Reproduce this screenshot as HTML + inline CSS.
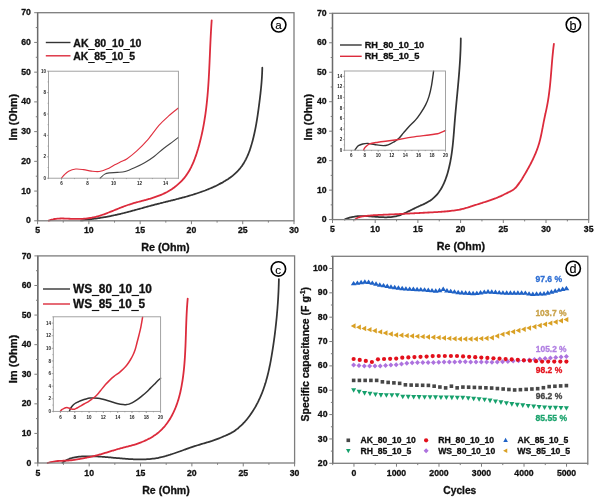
<!DOCTYPE html><html><head><meta charset="utf-8"><style>html,body{margin:0;padding:0;background:#fff;}svg{display:block;}</style></head><body>
<svg width="600" height="503" viewBox="0 0 600 503" font-family='"Liberation Sans", Arial, sans-serif'>
<rect width="600" height="503" fill="#fff"/>
<path d="M81.01 220.49 C81.26 220.45 81.99 220.36 82.48 220.3 C82.97 220.24 83.46 220.17 83.96 220.11 C84.45 220.05 84.94 219.98 85.43 219.92 C85.92 219.86 86.41 219.79 86.9 219.73 C87.39 219.66 87.88 219.6 88.37 219.53 C88.86 219.47 89.36 219.4 89.85 219.33 C90.34 219.27 90.83 219.2 91.32 219.13 C91.81 219.07 92.31 219 92.8 218.93 C93.29 218.86 93.78 218.79 94.27 218.72 C94.76 218.65 95.26 218.58 95.75 218.51 C96.24 218.43 96.73 218.36 97.23 218.29 C97.72 218.21 98.21 218.14 98.7 218.06 C99.2 217.99 99.69 217.91 100.18 217.83 C100.67 217.75 101.17 217.68 101.66 217.6 C102.15 217.52 102.64 217.43 103.14 217.35 C103.63 217.27 104.12 217.19 104.62 217.1 C105.11 217.02 105.6 216.93 106.09 216.84 C106.59 216.76 107.08 216.67 107.57 216.58 C108.07 216.49 108.56 216.39 109.05 216.3 C109.55 216.21 110.04 216.11 110.53 216.02 C111.02 215.92 111.52 215.82 112.01 215.72 C112.5 215.62 113 215.52 113.49 215.42 C113.98 215.32 114.48 215.21 114.97 215.11 C115.46 215 115.96 214.89 116.45 214.78 C116.94 214.67 117.43 214.56 117.93 214.45 C118.42 214.33 118.91 214.22 119.41 214.1 C119.9 213.99 120.39 213.87 120.89 213.75 C121.38 213.63 121.87 213.51 122.37 213.39 C122.86 213.27 123.35 213.15 123.84 213.02 C124.34 212.9 124.83 212.77 125.32 212.65 C125.81 212.52 126.31 212.39 126.8 212.27 C127.29 212.14 127.79 212.01 128.28 211.88 C128.77 211.75 129.26 211.62 129.76 211.49 C130.25 211.36 130.74 211.22 131.23 211.09 C131.72 210.96 132.22 210.82 132.71 210.69 C133.2 210.56 133.69 210.42 134.18 210.29 C134.68 210.15 135.17 210.02 135.66 209.88 C136.15 209.75 136.64 209.61 137.13 209.47 C137.63 209.34 138.12 209.2 138.61 209.07 C139.1 208.93 139.59 208.79 140.08 208.66 C140.57 208.52 141.06 208.38 141.56 208.25 C142.05 208.11 142.54 207.97 143.03 207.84 C143.52 207.7 144.01 207.57 144.5 207.43 C144.99 207.29 145.48 207.16 145.97 207.02 C146.46 206.89 146.95 206.75 147.44 206.62 C147.93 206.49 148.42 206.35 148.91 206.22 C149.4 206.09 149.89 205.95 150.38 205.82 C150.87 205.69 151.36 205.56 151.84 205.43 C152.33 205.3 152.82 205.17 153.31 205.04 C153.8 204.91 154.29 204.79 154.78 204.66 C155.26 204.53 155.75 204.41 156.24 204.28 C156.73 204.16 157.21 204.03 157.7 203.91 C158.19 203.78 158.68 203.66 159.16 203.54 C159.65 203.41 160.14 203.29 160.62 203.17 C161.11 203.05 161.6 202.93 162.08 202.81 C162.57 202.68 163.06 202.56 163.54 202.44 C164.03 202.32 164.51 202.2 165 202.08 C165.48 201.96 165.97 201.84 166.45 201.72 C166.94 201.6 167.42 201.48 167.91 201.36 C168.39 201.24 168.88 201.12 169.36 201 C169.84 200.88 170.33 200.76 170.81 200.64 C171.29 200.52 171.78 200.4 172.26 200.28 C172.74 200.16 173.23 200.04 173.71 199.92 C174.19 199.8 174.67 199.68 175.16 199.55 C175.64 199.43 176.12 199.31 176.6 199.19 C177.08 199.06 177.56 198.94 178.04 198.81 C178.52 198.69 179 198.56 179.48 198.44 C179.97 198.31 180.44 198.19 180.92 198.06 C181.4 197.93 181.88 197.81 182.36 197.68 C182.84 197.55 183.32 197.42 183.8 197.29 C184.28 197.16 184.76 197.03 185.23 196.89 C185.71 196.76 186.19 196.63 186.67 196.49 C187.14 196.36 187.62 196.22 188.1 196.08 C188.57 195.95 189.05 195.81 189.52 195.67 C190 195.53 190.48 195.39 190.95 195.25 C191.43 195.1 191.9 194.96 192.38 194.81 C192.85 194.67 193.32 194.52 193.8 194.37 C194.27 194.22 194.75 194.07 195.22 193.92 C195.69 193.77 196.16 193.62 196.64 193.46 C197.11 193.31 197.58 193.15 198.05 192.99 C198.52 192.83 199 192.67 199.47 192.51 C199.94 192.35 200.41 192.18 200.88 192.02 C201.35 191.85 201.82 191.68 202.29 191.51 C202.76 191.34 203.23 191.17 203.69 191 C204.16 190.82 204.63 190.64 205.1 190.47 C205.57 190.29 206.03 190.1 206.5 189.92 C206.97 189.74 207.43 189.55 207.9 189.36 C208.37 189.17 208.83 188.98 209.3 188.79 C209.76 188.6 210.23 188.4 210.69 188.2 C211.16 188 211.62 187.8 212.08 187.6 C212.55 187.39 213.01 187.19 213.47 186.98 C213.94 186.77 214.4 186.56 214.86 186.34 C215.32 186.13 215.78 185.91 216.24 185.69 C216.7 185.47 217.16 185.24 217.62 185.01 C218.08 184.79 218.53 184.56 218.99 184.32 C219.44 184.09 219.9 183.85 220.35 183.61 C220.8 183.37 221.25 183.13 221.7 182.88 C222.15 182.64 222.59 182.39 223.03 182.13 C223.48 181.88 223.92 181.62 224.36 181.36 C224.79 181.1 225.23 180.84 225.66 180.57 C226.09 180.3 226.52 180.03 226.95 179.75 C227.38 179.48 227.8 179.2 228.22 178.92 C228.64 178.63 229.05 178.34 229.46 178.05 C229.88 177.76 230.28 177.47 230.69 177.17 C231.09 176.87 231.49 176.56 231.89 176.26 C232.28 175.95 232.67 175.64 233.06 175.32 C233.44 175 233.82 174.68 234.2 174.36 C234.58 174.03 234.95 173.7 235.31 173.37 C235.68 173.03 236.04 172.69 236.39 172.35 C236.75 172.01 237.1 171.66 237.44 171.31 C237.78 170.95 238.12 170.6 238.45 170.23 C238.78 169.87 239.11 169.5 239.42 169.13 C239.74 168.76 240.05 168.38 240.36 168 C240.66 167.62 240.96 167.23 241.26 166.84 C241.55 166.45 241.83 166.05 242.11 165.65 C242.39 165.25 242.67 164.84 242.94 164.43 C243.2 164.02 243.47 163.61 243.72 163.19 C243.98 162.77 244.23 162.35 244.48 161.92 C244.72 161.5 244.96 161.07 245.2 160.64 C245.43 160.2 245.66 159.77 245.89 159.33 C246.11 158.89 246.33 158.44 246.55 158 C246.76 157.55 246.97 157.1 247.18 156.65 C247.38 156.19 247.58 155.74 247.78 155.28 C247.98 154.82 248.17 154.36 248.36 153.9 C248.54 153.43 248.73 152.97 248.91 152.5 C249.09 152.03 249.26 151.56 249.44 151.09 C249.61 150.62 249.78 150.14 249.94 149.66 C250.11 149.19 250.27 148.71 250.43 148.23 C250.58 147.75 250.74 147.27 250.89 146.78 C251.04 146.3 251.19 145.82 251.33 145.33 C251.48 144.84 251.62 144.36 251.76 143.87 C251.9 143.38 252.04 142.89 252.17 142.4 C252.31 141.91 252.44 141.42 252.57 140.93 C252.7 140.44 252.83 139.95 252.95 139.46 C253.08 138.96 253.2 138.47 253.32 137.98 C253.44 137.49 253.56 136.99 253.68 136.5 C253.8 136 253.91 135.51 254.02 135.01 C254.14 134.52 254.25 134.02 254.36 133.53 C254.47 133.03 254.57 132.54 254.68 132.04 C254.78 131.54 254.89 131.05 254.99 130.55 C255.09 130.05 255.19 129.56 255.29 129.06 C255.39 128.56 255.48 128.06 255.58 127.57 C255.67 127.07 255.77 126.57 255.86 126.07 C255.95 125.57 256.04 125.07 256.13 124.57 C256.22 124.08 256.31 123.58 256.39 123.08 C256.48 122.58 256.57 122.08 256.65 121.58 C256.73 121.08 256.82 120.58 256.9 120.08 C256.98 119.58 257.06 119.08 257.14 118.58 C257.22 118.08 257.29 117.58 257.37 117.08 C257.45 116.58 257.52 116.08 257.6 115.59 C257.67 115.09 257.75 114.59 257.82 114.09 C257.89 113.59 257.96 113.09 258.03 112.59 C258.11 112.09 258.18 111.59 258.25 111.09 C258.32 110.59 258.38 110.09 258.45 109.6 C258.52 109.1 258.59 108.6 258.66 108.1 C258.72 107.6 258.79 107.1 258.86 106.61 C258.92 106.11 258.99 105.61 259.05 105.11 C259.12 104.62 259.18 104.12 259.24 103.62 C259.31 103.13 259.37 102.63 259.44 102.13 C259.5 101.64 259.56 101.14 259.62 100.64 C259.69 100.15 259.75 99.65 259.81 99.16 C259.87 98.66 259.93 98.17 259.99 97.67 C260.05 97.18 260.11 96.68 260.17 96.18 C260.22 95.69 260.28 95.19 260.34 94.7 C260.39 94.2 260.45 93.71 260.51 93.21 C260.56 92.72 260.61 92.22 260.67 91.73 C260.72 91.23 260.77 90.74 260.82 90.24 C260.88 89.75 260.93 89.25 260.98 88.75 C261.03 88.26 261.07 87.76 261.12 87.27 C261.17 86.77 261.22 86.27 261.26 85.78 C261.31 85.28 261.35 84.78 261.39 84.28 C261.43 83.79 261.48 83.29 261.52 82.79 C261.56 82.29 261.6 81.79 261.63 81.3 C261.67 80.8 261.71 80.3 261.74 79.8 C261.78 79.3 261.81 78.8 261.85 78.3 C261.88 77.8 261.91 77.3 261.94 76.8 C261.97 76.29 262 75.79 262.02 75.29 C262.05 74.79 262.08 74.28 262.1 73.78 C262.12 73.28 262.14 72.77 262.16 72.27 C262.18 71.76 262.2 71.26 262.22 70.75 C262.24 70.24 262.25 69.74 262.27 69.23 C262.28 68.72 262.3 67.96 262.3 67.7" stroke="#343434" stroke-width="1.75" fill="none" stroke-linejoin="round" stroke-linecap="round"/>
<path d="M48.69 220.58 C48.93 220.5 49.65 220.22 50.14 220.06 C50.62 219.9 51.11 219.75 51.59 219.62 C52.08 219.49 52.57 219.37 53.06 219.27 C53.54 219.16 54.03 219.07 54.52 218.99 C55.01 218.91 55.5 218.84 56 218.78 C56.49 218.72 56.98 218.67 57.47 218.63 C57.96 218.59 58.46 218.56 58.95 218.54 C59.45 218.51 59.94 218.5 60.44 218.49 C60.93 218.48 61.43 218.47 61.92 218.47 C62.42 218.47 62.92 218.48 63.41 218.49 C63.91 218.5 64.41 218.52 64.91 218.54 C65.41 218.55 65.9 218.57 66.4 218.6 C66.9 218.62 67.4 218.64 67.9 218.66 C68.4 218.69 68.9 218.71 69.39 218.73 C69.89 218.76 70.39 218.78 70.89 218.8 C71.39 218.82 71.89 218.83 72.39 218.85 C72.89 218.87 73.39 218.88 73.89 218.89 C74.38 218.9 74.88 218.91 75.38 218.92 C75.88 218.93 76.38 218.93 76.88 218.93 C77.37 218.93 77.87 218.93 78.37 218.93 C78.86 218.92 79.36 218.91 79.86 218.9 C80.35 218.89 80.85 218.87 81.35 218.85 C81.84 218.83 82.34 218.81 82.83 218.78 C83.32 218.76 83.82 218.72 84.31 218.69 C84.8 218.65 85.29 218.61 85.79 218.56 C86.28 218.52 86.77 218.47 87.26 218.41 C87.75 218.36 88.24 218.3 88.72 218.23 C89.21 218.16 89.7 218.09 90.18 218.01 C90.67 217.94 91.16 217.85 91.64 217.76 C92.12 217.67 92.61 217.58 93.09 217.48 C93.57 217.37 94.05 217.27 94.53 217.15 C95.01 217.04 95.49 216.92 95.97 216.8 C96.45 216.67 96.92 216.55 97.4 216.41 C97.88 216.28 98.35 216.14 98.83 216 C99.3 215.86 99.78 215.71 100.25 215.56 C100.72 215.41 101.2 215.25 101.67 215.09 C102.14 214.94 102.61 214.77 103.08 214.61 C103.56 214.44 104.03 214.28 104.5 214.1 C104.97 213.93 105.44 213.76 105.91 213.58 C106.38 213.41 106.85 213.23 107.32 213.05 C107.79 212.86 108.26 212.68 108.73 212.5 C109.2 212.31 109.67 212.12 110.13 211.94 C110.6 211.75 111.07 211.56 111.54 211.37 C112.01 211.18 112.48 210.99 112.95 210.8 C113.42 210.6 113.89 210.41 114.36 210.22 C114.83 210.03 115.3 209.83 115.77 209.64 C116.24 209.45 116.71 209.26 117.18 209.06 C117.65 208.87 118.12 208.68 118.6 208.49 C119.07 208.3 119.54 208.11 120.01 207.92 C120.49 207.73 120.96 207.55 121.43 207.36 C121.91 207.18 122.38 206.99 122.86 206.81 C123.33 206.63 123.81 206.45 124.29 206.27 C124.76 206.1 125.24 205.92 125.72 205.75 C126.2 205.58 126.68 205.41 127.16 205.25 C127.64 205.08 128.12 204.92 128.6 204.76 C129.08 204.6 129.57 204.44 130.05 204.29 C130.54 204.14 131.02 203.98 131.51 203.84 C131.99 203.69 132.48 203.54 132.96 203.4 C133.45 203.25 133.94 203.11 134.43 202.97 C134.91 202.83 135.4 202.69 135.89 202.55 C136.38 202.42 136.87 202.28 137.35 202.15 C137.84 202.01 138.33 201.88 138.82 201.75 C139.31 201.61 139.8 201.48 140.29 201.35 C140.77 201.22 141.26 201.09 141.75 200.95 C142.24 200.82 142.73 200.69 143.21 200.56 C143.7 200.43 144.19 200.3 144.67 200.16 C145.16 200.03 145.64 199.9 146.13 199.76 C146.61 199.63 147.1 199.5 147.58 199.36 C148.06 199.22 148.55 199.09 149.03 198.95 C149.51 198.81 149.99 198.67 150.47 198.52 C150.95 198.38 151.43 198.24 151.91 198.09 C152.38 197.94 152.86 197.79 153.33 197.64 C153.81 197.49 154.28 197.34 154.75 197.18 C155.23 197.02 155.7 196.86 156.17 196.7 C156.63 196.54 157.1 196.37 157.57 196.2 C158.03 196.03 158.5 195.85 158.96 195.68 C159.42 195.5 159.88 195.32 160.34 195.13 C160.8 194.95 161.25 194.76 161.71 194.56 C162.16 194.37 162.61 194.17 163.06 193.96 C163.51 193.76 163.96 193.55 164.4 193.34 C164.85 193.12 165.29 192.9 165.73 192.68 C166.17 192.45 166.61 192.22 167.04 191.99 C167.47 191.75 167.91 191.51 168.33 191.27 C168.76 191.02 169.19 190.77 169.61 190.52 C170.03 190.26 170.45 190 170.87 189.73 C171.29 189.47 171.7 189.2 172.11 188.92 C172.52 188.65 172.93 188.37 173.33 188.08 C173.73 187.8 174.13 187.51 174.52 187.21 C174.92 186.92 175.31 186.62 175.7 186.31 C176.09 186.01 176.47 185.7 176.85 185.38 C177.23 185.07 177.6 184.75 177.97 184.43 C178.35 184.1 178.71 183.77 179.07 183.44 C179.44 183.11 179.79 182.77 180.15 182.42 C180.5 182.08 180.85 181.73 181.19 181.38 C181.54 181.03 181.88 180.67 182.21 180.31 C182.54 179.95 182.87 179.58 183.2 179.21 C183.52 178.84 183.84 178.47 184.15 178.09 C184.47 177.71 184.77 177.32 185.08 176.94 C185.38 176.55 185.68 176.15 185.97 175.76 C186.26 175.36 186.54 174.96 186.82 174.55 C187.1 174.14 187.38 173.73 187.65 173.32 C187.92 172.91 188.18 172.49 188.44 172.06 C188.7 171.64 188.95 171.22 189.2 170.79 C189.45 170.36 189.7 169.92 189.94 169.49 C190.18 169.05 190.41 168.61 190.64 168.17 C190.87 167.73 191.1 167.28 191.32 166.83 C191.54 166.38 191.76 165.93 191.97 165.47 C192.18 165.02 192.39 164.56 192.6 164.1 C192.8 163.64 193 163.18 193.2 162.72 C193.4 162.25 193.59 161.79 193.78 161.32 C193.97 160.85 194.16 160.38 194.34 159.91 C194.52 159.44 194.7 158.96 194.88 158.49 C195.06 158.01 195.23 157.53 195.4 157.05 C195.57 156.58 195.74 156.1 195.9 155.62 C196.07 155.13 196.23 154.65 196.39 154.17 C196.55 153.69 196.71 153.2 196.86 152.72 C197.02 152.23 197.17 151.75 197.32 151.26 C197.47 150.78 197.62 150.29 197.76 149.81 C197.91 149.32 198.05 148.83 198.2 148.35 C198.34 147.86 198.48 147.38 198.62 146.89 C198.76 146.4 198.89 145.91 199.03 145.43 C199.16 144.94 199.3 144.45 199.43 143.97 C199.56 143.48 199.69 142.99 199.81 142.5 C199.94 142.01 200.07 141.53 200.19 141.04 C200.32 140.55 200.44 140.06 200.56 139.57 C200.68 139.08 200.8 138.6 200.91 138.11 C201.03 137.62 201.15 137.13 201.26 136.64 C201.37 136.15 201.49 135.66 201.6 135.17 C201.71 134.68 201.82 134.19 201.92 133.7 C202.03 133.21 202.14 132.72 202.24 132.23 C202.34 131.74 202.45 131.25 202.55 130.76 C202.65 130.27 202.75 129.78 202.84 129.29 C202.94 128.8 203.04 128.31 203.13 127.82 C203.23 127.33 203.32 126.84 203.41 126.34 C203.5 125.85 203.59 125.36 203.68 124.87 C203.77 124.38 203.86 123.89 203.95 123.39 C204.03 122.9 204.12 122.41 204.2 121.92 C204.28 121.43 204.36 120.93 204.45 120.44 C204.53 119.95 204.61 119.46 204.68 118.96 C204.76 118.47 204.84 117.98 204.91 117.48 C204.99 116.99 205.06 116.5 205.14 116 C205.21 115.51 205.28 115.02 205.35 114.52 C205.42 114.03 205.49 113.54 205.56 113.04 C205.63 112.55 205.69 112.06 205.76 111.56 C205.82 111.07 205.89 110.57 205.95 110.08 C206.01 109.58 206.08 109.09 206.14 108.6 C206.2 108.1 206.26 107.61 206.32 107.11 C206.38 106.62 206.43 106.12 206.49 105.63 C206.55 105.13 206.6 104.64 206.66 104.14 C206.71 103.65 206.77 103.15 206.82 102.66 C206.87 102.16 206.93 101.66 206.98 101.17 C207.03 100.67 207.08 100.18 207.13 99.68 C207.17 99.19 207.22 98.69 207.27 98.19 C207.32 97.7 207.36 97.2 207.41 96.71 C207.45 96.21 207.5 95.71 207.54 95.22 C207.59 94.72 207.63 94.22 207.67 93.73 C207.71 93.23 207.76 92.73 207.8 92.24 C207.84 91.74 207.88 91.24 207.92 90.75 C207.96 90.25 207.99 89.75 208.03 89.25 C208.07 88.76 208.11 88.26 208.14 87.76 C208.18 87.26 208.21 86.77 208.25 86.27 C208.28 85.77 208.32 85.27 208.35 84.78 C208.39 84.28 208.42 83.78 208.45 83.28 C208.48 82.78 208.52 82.29 208.55 81.79 C208.58 81.29 208.61 80.79 208.64 80.29 C208.67 79.8 208.7 79.3 208.73 78.8 C208.76 78.3 208.79 77.8 208.82 77.3 C208.84 76.81 208.87 76.31 208.9 75.81 C208.93 75.31 208.95 74.81 208.98 74.31 C209.01 73.81 209.03 73.31 209.06 72.82 C209.09 72.32 209.11 71.82 209.14 71.32 C209.16 70.82 209.19 70.32 209.21 69.82 C209.24 69.32 209.26 68.82 209.28 68.32 C209.31 67.82 209.33 67.33 209.35 66.83 C209.38 66.33 209.4 65.83 209.42 65.33 C209.45 64.83 209.47 64.33 209.49 63.83 C209.51 63.33 209.54 62.83 209.56 62.33 C209.58 61.83 209.6 61.33 209.62 60.83 C209.65 60.33 209.67 59.83 209.69 59.33 C209.71 58.83 209.73 58.33 209.75 57.83 C209.78 57.33 209.8 56.83 209.82 56.33 C209.84 55.83 209.86 55.33 209.88 54.83 C209.9 54.33 209.93 53.83 209.95 53.33 C209.97 52.83 209.99 52.33 210.01 51.83 C210.03 51.33 210.05 50.83 210.07 50.33 C210.1 49.83 210.12 49.33 210.14 48.83 C210.16 48.33 210.18 47.83 210.2 47.33 C210.23 46.83 210.25 46.33 210.27 45.83 C210.29 45.33 210.32 44.83 210.34 44.33 C210.36 43.83 210.38 43.33 210.41 42.82 C210.43 42.32 210.45 41.82 210.48 41.32 C210.5 40.82 210.52 40.32 210.55 39.82 C210.57 39.32 210.6 38.82 210.62 38.32 C210.65 37.82 210.67 37.32 210.7 36.82 C210.72 36.32 210.75 35.82 210.77 35.32 C210.8 34.82 210.83 34.32 210.85 33.81 C210.88 33.31 210.91 32.81 210.94 32.31 C210.96 31.81 210.99 31.31 211.02 30.81 C211.05 30.31 211.08 29.81 211.11 29.31 C211.14 28.81 211.17 28.31 211.2 27.81 C211.23 27.31 211.26 26.81 211.29 26.31 C211.32 25.81 211.36 25.3 211.39 24.8 C211.42 24.3 211.46 23.8 211.49 23.3 C211.52 22.8 211.56 22.3 211.59 21.8 C211.63 21.3 211.68 20.55 211.7 20.3" stroke="#dc2b3c" stroke-width="1.8" fill="none" stroke-linejoin="round" stroke-linecap="round"/>
<rect x="37.6" y="12.7" width="256.4" height="208.1" fill="none" stroke="#7d7d7d" stroke-width="1.3"/>
<path d="M37.6 12.7V220.8" stroke="#6a6a6a" stroke-width="1.3"/>
<path d="M37.6 220.8V224.2M88.88 220.8V224.2M140.16 220.8V224.2M191.44 220.8V224.2M242.72 220.8V224.2M294 220.8V224.2M63.24 220.8V222.6M114.52 220.8V222.6M165.8 220.8V222.6M217.08 220.8V222.6M268.36 220.8V222.6M37.6 220.8H34.2M37.6 191.07H34.2M37.6 161.34H34.2M37.6 131.61H34.2M37.6 101.89H34.2M37.6 72.16H34.2M37.6 42.43H34.2M37.6 12.7H34.2M37.6 205.94H35.8M37.6 176.21H35.8M37.6 146.48H35.8M37.6 116.75H35.8M37.6 87.02H35.8M37.6 57.29H35.8M37.6 27.56H35.8" stroke="#7d7d7d" stroke-width="1.0" fill="none"/>
<text x="30.9" y="223.4" font-size="8.7" text-anchor="end" font-weight="bold" fill="#111" stroke="#111" stroke-width="0.3">0</text>
<text x="30.9" y="193.67" font-size="8.7" text-anchor="end" font-weight="bold" fill="#111" stroke="#111" stroke-width="0.3">10</text>
<text x="30.9" y="163.94" font-size="8.7" text-anchor="end" font-weight="bold" fill="#111" stroke="#111" stroke-width="0.3">20</text>
<text x="30.9" y="134.21" font-size="8.7" text-anchor="end" font-weight="bold" fill="#111" stroke="#111" stroke-width="0.3">30</text>
<text x="30.9" y="104.49" font-size="8.7" text-anchor="end" font-weight="bold" fill="#111" stroke="#111" stroke-width="0.3">40</text>
<text x="30.9" y="74.76" font-size="8.7" text-anchor="end" font-weight="bold" fill="#111" stroke="#111" stroke-width="0.3">50</text>
<text x="30.9" y="45.03" font-size="8.7" text-anchor="end" font-weight="bold" fill="#111" stroke="#111" stroke-width="0.3">60</text>
<text x="30.9" y="15.3" font-size="8.7" text-anchor="end" font-weight="bold" fill="#111" stroke="#111" stroke-width="0.3">70</text>
<text x="37.6" y="233" font-size="8.7" text-anchor="middle" font-weight="bold" fill="#111" stroke="#111" stroke-width="0.3">5</text>
<text x="88.88" y="233" font-size="8.7" text-anchor="middle" font-weight="bold" fill="#111" stroke="#111" stroke-width="0.3">10</text>
<text x="140.16" y="233" font-size="8.7" text-anchor="middle" font-weight="bold" fill="#111" stroke="#111" stroke-width="0.3">15</text>
<text x="191.44" y="233" font-size="8.7" text-anchor="middle" font-weight="bold" fill="#111" stroke="#111" stroke-width="0.3">20</text>
<text x="242.72" y="233" font-size="8.7" text-anchor="middle" font-weight="bold" fill="#111" stroke="#111" stroke-width="0.3">25</text>
<text x="294" y="233" font-size="8.7" text-anchor="middle" font-weight="bold" fill="#111" stroke="#111" stroke-width="0.3">30</text>
<text x="165.5" y="250.6" font-size="10.6" text-anchor="middle" font-weight="bold" fill="#111" stroke="#111" stroke-width="0.3" textLength="48.4" lengthAdjust="spacingAndGlyphs">Re (Ohm)</text>
<text x="0" y="0" font-size="10.8" font-weight="bold" fill="#111" stroke="#111" stroke-width="0.3" text-anchor="middle" textLength="46.6" lengthAdjust="spacingAndGlyphs" transform="translate(16.9 117.2) rotate(-90)">Im (Ohm)</text>
<path d="M45.8 42.5H70.5" stroke="#343434" stroke-width="1.4"/>
<path d="M45.8 55.8H70.5" stroke="#dc2b3c" stroke-width="1.4"/>
<text x="73.3" y="46.6" font-size="10.5" text-anchor="start" font-weight="bold" fill="#111" stroke="#111" stroke-width="0.3" textLength="68.2" lengthAdjust="spacingAndGlyphs">AK<tspan dy="1.05" stroke="#111" stroke-width="0.58">_</tspan><tspan dy="-1.05">80</tspan><tspan dy="1.05" stroke="#111" stroke-width="0.58">_</tspan><tspan dy="-1.05">10</tspan><tspan dy="1.05" stroke="#111" stroke-width="0.58">_</tspan><tspan dy="-1.05">10</tspan></text>
<text x="73.3" y="59.9" font-size="10.5" text-anchor="start" font-weight="bold" fill="#111" stroke="#111" stroke-width="0.3" textLength="61.7" lengthAdjust="spacingAndGlyphs">AK<tspan dy="1.05" stroke="#111" stroke-width="0.58">_</tspan><tspan dy="-1.05">85</tspan><tspan dy="1.05" stroke="#111" stroke-width="0.58">_</tspan><tspan dy="-1.05">10</tspan><tspan dy="1.05" stroke="#111" stroke-width="0.58">_</tspan><tspan dy="-1.05">5</tspan></text>
<circle cx="278.7" cy="24.8" r="7.2" fill="#fff" stroke="#000" stroke-width="1.6"/>
<text x="278.4" y="29.3" font-size="11.6" text-anchor="middle" fill="#000" stroke="#000" stroke-width="0.15">a</text>
<rect x="48.5" y="71.2" width="129.9" height="107" fill="#fff"/>
<path d="M100.07 178.2 C100.85 177.52 103.17 175.03 104.75 174.13 C106.33 173.24 107.45 173.14 109.55 172.85 C111.65 172.56 114.75 172.64 117.35 172.42 C119.95 172.21 122.2 172.37 125.14 171.57 C128.09 170.76 131.77 169.07 135.01 167.61 C138.26 166.14 141.44 164.65 144.63 162.79 C147.81 160.94 150.95 158.87 154.11 156.48 C157.27 154.09 160.41 150.97 163.59 148.45 C166.77 145.94 170.74 143.23 173.2 141.39 C175.67 139.56 177.53 138.09 178.4 137.43" stroke="#444" stroke-width="1.1" fill="none" stroke-linejoin="round" stroke-linecap="round"/>
<path d="M61.49 178.2 C61.92 177.66 62.9 176.17 64.09 174.99 C65.28 173.81 66.69 172.14 68.63 171.14 C70.58 170.14 73.29 169.25 75.78 169 C78.27 168.75 80.98 169.28 83.57 169.64 C86.17 170 88.77 170.82 91.37 171.14 C93.97 171.46 96.56 171.9 99.16 171.57 C101.76 171.23 104.36 170.23 106.96 169.1 C109.55 167.98 112.37 166.07 114.75 164.82 C117.13 163.58 119.19 162.63 121.24 161.61 C123.3 160.6 124.49 160.51 127.09 158.73 C129.69 156.94 133.37 154.09 136.83 150.91 C140.3 147.74 144.19 143.92 147.87 139.68 C151.55 135.44 155.45 129.41 158.92 125.45 C162.38 121.49 165.41 118.83 168.66 115.93 C171.91 113.02 176.78 109.33 178.4 108.01" stroke="#e0303f" stroke-width="1.1" fill="none" stroke-linejoin="round" stroke-linecap="round"/>
<rect x="48.5" y="71.2" width="129.9" height="107" fill="none" stroke="#999" stroke-width="0.9"/>
<path d="M61.49 178.2V179.8M87.47 178.2V179.8M113.45 178.2V179.8M139.43 178.2V179.8M165.41 178.2V179.8M48.5 178.2V179.1M61.49 178.2V179.1M74.48 178.2V179.1M87.47 178.2V179.1M100.46 178.2V179.1M113.45 178.2V179.1M126.44 178.2V179.1M139.43 178.2V179.1M152.42 178.2V179.1M165.41 178.2V179.1M178.4 178.2V179.1M48.5 178.2H46.9M48.5 156.8H46.9M48.5 135.4H46.9M48.5 114H46.9M48.5 92.6H46.9M48.5 71.2H46.9M48.5 167.5H47.6M48.5 146.1H47.6M48.5 124.7H47.6M48.5 103.3H47.6M48.5 81.9H47.6" stroke="#8a8a8a" stroke-width="0.7" fill="none"/>
<text x="45.9" y="179.8" font-size="4.5" text-anchor="end" font-weight="bold" fill="#222">0</text>
<text x="45.9" y="158.4" font-size="4.5" text-anchor="end" font-weight="bold" fill="#222">2</text>
<text x="45.9" y="137" font-size="4.5" text-anchor="end" font-weight="bold" fill="#222">4</text>
<text x="45.9" y="115.6" font-size="4.5" text-anchor="end" font-weight="bold" fill="#222">6</text>
<text x="45.9" y="94.2" font-size="4.5" text-anchor="end" font-weight="bold" fill="#222">8</text>
<text x="45.9" y="72.8" font-size="4.5" text-anchor="end" font-weight="bold" fill="#222">10</text>
<text x="61.49" y="185.2" font-size="4.5" text-anchor="middle" font-weight="bold" fill="#222">6</text>
<text x="87.47" y="185.2" font-size="4.5" text-anchor="middle" font-weight="bold" fill="#222">8</text>
<text x="113.45" y="185.2" font-size="4.5" text-anchor="middle" font-weight="bold" fill="#222">10</text>
<text x="139.43" y="185.2" font-size="4.5" text-anchor="middle" font-weight="bold" fill="#222">12</text>
<text x="165.41" y="185.2" font-size="4.5" text-anchor="middle" font-weight="bold" fill="#222">14</text>
<path d="M344.7 219.49 C344.93 219.38 345.61 219.06 346.07 218.86 C346.53 218.66 347 218.48 347.46 218.31 C347.93 218.14 348.4 217.98 348.87 217.83 C349.34 217.68 349.81 217.54 350.29 217.41 C350.76 217.29 351.24 217.17 351.72 217.06 C352.2 216.96 352.68 216.86 353.17 216.77 C353.65 216.68 354.14 216.61 354.63 216.54 C355.11 216.47 355.6 216.41 356.09 216.35 C356.59 216.3 357.08 216.25 357.57 216.22 C358.07 216.18 358.56 216.15 359.06 216.12 C359.56 216.1 360.06 216.08 360.56 216.07 C361.06 216.05 361.56 216.05 362.06 216.05 C362.56 216.05 363.07 216.05 363.57 216.06 C364.08 216.07 364.58 216.08 365.09 216.1 C365.59 216.12 366.1 216.14 366.61 216.16 C367.11 216.19 367.62 216.21 368.13 216.24 C368.64 216.27 369.15 216.31 369.66 216.34 C370.17 216.38 370.68 216.41 371.19 216.45 C371.7 216.49 372.21 216.53 372.72 216.57 C373.23 216.6 373.74 216.64 374.25 216.68 C374.76 216.72 375.27 216.76 375.77 216.8 C376.28 216.84 376.79 216.88 377.3 216.92 C377.81 216.95 378.32 216.99 378.83 217.02 C379.34 217.05 379.84 217.09 380.35 217.11 C380.86 217.14 381.36 217.17 381.87 217.19 C382.37 217.21 382.88 217.23 383.38 217.24 C383.88 217.26 384.39 217.27 384.89 217.27 C385.39 217.28 385.89 217.28 386.39 217.27 C386.88 217.27 387.38 217.26 387.88 217.24 C388.37 217.23 388.87 217.2 389.36 217.17 C389.85 217.15 390.34 217.11 390.83 217.07 C391.32 217.02 391.81 216.97 392.3 216.91 C392.78 216.85 393.27 216.79 393.75 216.71 C394.23 216.63 394.71 216.55 395.19 216.45 C395.67 216.36 396.14 216.26 396.61 216.14 C397.09 216.03 397.56 215.9 398.03 215.77 C398.5 215.64 398.96 215.49 399.43 215.34 C399.89 215.18 400.35 215.02 400.81 214.85 C401.27 214.68 401.73 214.5 402.19 214.31 C402.65 214.12 403.1 213.93 403.56 213.73 C404.01 213.53 404.47 213.32 404.92 213.11 C405.38 212.9 405.83 212.69 406.28 212.47 C406.74 212.25 407.19 212.03 407.64 211.8 C408.09 211.58 408.55 211.35 409 211.12 C409.45 210.89 409.91 210.66 410.36 210.43 C410.82 210.2 411.27 209.96 411.73 209.73 C412.19 209.5 412.65 209.27 413.11 209.04 C413.57 208.82 414.03 208.59 414.49 208.36 C414.96 208.14 415.42 207.92 415.89 207.7 C416.35 207.48 416.82 207.27 417.29 207.05 C417.76 206.84 418.23 206.63 418.7 206.42 C419.17 206.21 419.64 206 420.11 205.79 C420.58 205.57 421.05 205.36 421.52 205.15 C421.98 204.94 422.45 204.73 422.91 204.51 C423.37 204.3 423.83 204.08 424.29 203.86 C424.74 203.64 425.2 203.41 425.64 203.18 C426.09 202.96 426.54 202.72 426.98 202.49 C427.42 202.25 427.85 202.01 428.28 201.76 C428.71 201.51 429.13 201.26 429.55 200.99 C429.96 200.73 430.37 200.46 430.77 200.19 C431.17 199.91 431.57 199.63 431.95 199.33 C432.34 199.04 432.72 198.74 433.09 198.43 C433.46 198.12 433.82 197.8 434.18 197.47 C434.53 197.15 434.88 196.81 435.22 196.47 C435.56 196.13 435.89 195.78 436.22 195.42 C436.54 195.07 436.86 194.7 437.17 194.33 C437.48 193.96 437.79 193.59 438.08 193.21 C438.38 192.82 438.67 192.43 438.96 192.04 C439.24 191.64 439.52 191.24 439.79 190.83 C440.06 190.43 440.33 190.02 440.59 189.6 C440.84 189.18 441.1 188.76 441.34 188.33 C441.59 187.9 441.83 187.47 442.07 187.03 C442.3 186.59 442.53 186.15 442.76 185.71 C442.98 185.26 443.2 184.81 443.41 184.36 C443.63 183.9 443.83 183.45 444.04 182.98 C444.24 182.52 444.44 182.06 444.63 181.59 C444.82 181.12 445.01 180.65 445.2 180.18 C445.38 179.71 445.56 179.23 445.73 178.75 C445.91 178.27 446.08 177.79 446.24 177.31 C446.41 176.83 446.57 176.34 446.73 175.86 C446.89 175.37 447.04 174.88 447.19 174.4 C447.34 173.91 447.48 173.42 447.63 172.93 C447.77 172.44 447.91 171.94 448.04 171.45 C448.18 170.96 448.31 170.47 448.44 169.97 C448.57 169.48 448.69 168.99 448.81 168.49 C448.94 168 449.06 167.51 449.17 167.01 C449.29 166.52 449.4 166.03 449.51 165.53 C449.62 165.04 449.73 164.55 449.84 164.05 C449.94 163.56 450.04 163.07 450.14 162.57 C450.24 162.08 450.34 161.58 450.43 161.09 C450.53 160.59 450.62 160.1 450.71 159.61 C450.8 159.11 450.88 158.62 450.97 158.12 C451.05 157.63 451.14 157.13 451.22 156.64 C451.3 156.14 451.37 155.65 451.45 155.15 C451.53 154.66 451.6 154.16 451.67 153.67 C451.74 153.17 451.81 152.68 451.88 152.18 C451.95 151.68 452.02 151.19 452.08 150.69 C452.15 150.2 452.21 149.7 452.27 149.21 C452.33 148.71 452.39 148.21 452.45 147.72 C452.51 147.22 452.56 146.72 452.62 146.23 C452.67 145.73 452.73 145.24 452.78 144.74 C452.83 144.24 452.89 143.75 452.94 143.25 C452.99 142.75 453.03 142.26 453.08 141.76 C453.13 141.26 453.18 140.76 453.22 140.27 C453.27 139.77 453.32 139.27 453.36 138.78 C453.4 138.28 453.45 137.78 453.49 137.28 C453.53 136.79 453.57 136.29 453.62 135.79 C453.66 135.29 453.7 134.8 453.74 134.3 C453.78 133.8 453.82 133.3 453.86 132.81 C453.9 132.31 453.94 131.81 453.98 131.31 C454.02 130.81 454.05 130.32 454.09 129.82 C454.13 129.32 454.17 128.82 454.21 128.32 C454.25 127.82 454.29 127.33 454.32 126.83 C454.36 126.33 454.4 125.83 454.44 125.33 C454.48 124.83 454.52 124.33 454.56 123.84 C454.6 123.34 454.64 122.84 454.68 122.34 C454.72 121.84 454.76 121.34 454.8 120.84 C454.84 120.34 454.88 119.84 454.92 119.35 C454.96 118.85 455.01 118.35 455.05 117.85 C455.09 117.35 455.13 116.85 455.18 116.35 C455.22 115.85 455.26 115.35 455.31 114.85 C455.35 114.35 455.4 113.85 455.44 113.35 C455.49 112.85 455.53 112.35 455.58 111.86 C455.62 111.36 455.67 110.86 455.71 110.36 C455.76 109.86 455.8 109.36 455.85 108.86 C455.9 108.36 455.94 107.86 455.99 107.36 C456.04 106.86 456.08 106.36 456.13 105.86 C456.18 105.36 456.22 104.86 456.27 104.36 C456.32 103.86 456.36 103.36 456.41 102.86 C456.46 102.36 456.51 101.86 456.55 101.36 C456.6 100.86 456.65 100.36 456.7 99.86 C456.74 99.36 456.79 98.86 456.84 98.36 C456.89 97.85 456.94 97.35 456.98 96.85 C457.03 96.35 457.08 95.85 457.13 95.35 C457.17 94.85 457.22 94.35 457.27 93.85 C457.32 93.35 457.36 92.85 457.41 92.35 C457.46 91.85 457.5 91.35 457.55 90.85 C457.6 90.35 457.65 89.85 457.69 89.35 C457.74 88.85 457.79 88.35 457.83 87.84 C457.88 87.34 457.92 86.84 457.97 86.34 C458.02 85.84 458.06 85.34 458.11 84.84 C458.15 84.34 458.2 83.84 458.24 83.34 C458.29 82.84 458.33 82.34 458.38 81.84 C458.42 81.34 458.47 80.83 458.51 80.33 C458.55 79.83 458.6 79.33 458.64 78.83 C458.68 78.33 458.73 77.83 458.77 77.33 C458.81 76.83 458.85 76.33 458.9 75.83 C458.94 75.33 458.98 74.83 459.02 74.32 C459.06 73.82 459.1 73.32 459.14 72.82 C459.18 72.32 459.22 71.82 459.26 71.32 C459.3 70.82 459.34 70.32 459.37 69.82 C459.41 69.32 459.45 68.82 459.48 68.32 C459.52 67.81 459.56 67.31 459.59 66.81 C459.63 66.31 459.66 65.81 459.7 65.31 C459.73 64.81 459.77 64.31 459.8 63.81 C459.83 63.31 459.87 62.81 459.9 62.31 C459.93 61.81 459.96 61.31 459.99 60.81 C460.02 60.31 460.05 59.8 460.08 59.3 C460.11 58.8 460.14 58.3 460.17 57.8 C460.19 57.3 460.22 56.8 460.25 56.3 C460.27 55.8 460.3 55.3 460.32 54.8 C460.35 54.3 460.37 53.8 460.39 53.3 C460.42 52.8 460.44 52.3 460.46 51.8 C460.48 51.3 460.5 50.8 460.52 50.3 C460.54 49.8 460.56 49.3 460.58 48.8 C460.59 48.3 460.61 47.8 460.63 47.3 C460.64 46.8 460.66 46.3 460.67 45.8 C460.68 45.3 460.7 44.8 460.71 44.3 C460.72 43.8 460.73 43.3 460.74 42.8 C460.75 42.3 460.76 41.8 460.77 41.3 C460.77 40.8 460.78 40.3 460.79 39.8 C460.79 39.3 460.8 38.55 460.8 38.3" stroke="#343434" stroke-width="1.75" fill="none" stroke-linejoin="round" stroke-linecap="round"/>
<path d="M355.49 219.3 C355.72 219.13 356.38 218.56 356.83 218.26 C357.27 217.97 357.73 217.74 358.18 217.54 C358.64 217.34 359.09 217.19 359.56 217.05 C360.02 216.92 360.48 216.82 360.95 216.72 C361.42 216.62 361.89 216.54 362.36 216.46 C362.83 216.37 363.31 216.3 363.78 216.22 C364.26 216.15 364.74 216.08 365.23 216.02 C365.71 215.95 366.19 215.89 366.68 215.83 C367.17 215.77 367.66 215.72 368.15 215.67 C368.64 215.62 369.13 215.57 369.62 215.53 C370.12 215.48 370.61 215.44 371.11 215.4 C371.61 215.36 372.11 215.32 372.61 215.29 C373.11 215.26 373.61 215.22 374.11 215.19 C374.61 215.16 375.12 215.13 375.62 215.11 C376.12 215.08 376.63 215.05 377.13 215.03 C377.64 215 378.14 214.98 378.65 214.96 C379.15 214.93 379.66 214.91 380.17 214.89 C380.67 214.87 381.18 214.85 381.69 214.82 C382.19 214.8 382.7 214.78 383.2 214.76 C383.71 214.74 384.22 214.72 384.72 214.7 C385.23 214.67 385.73 214.65 386.24 214.63 C386.74 214.61 387.25 214.59 387.75 214.56 C388.26 214.54 388.76 214.52 389.26 214.5 C389.77 214.47 390.27 214.45 390.78 214.43 C391.28 214.4 391.78 214.38 392.29 214.36 C392.79 214.33 393.29 214.31 393.79 214.29 C394.3 214.26 394.8 214.24 395.3 214.21 C395.8 214.19 396.31 214.17 396.81 214.14 C397.31 214.12 397.81 214.09 398.31 214.07 C398.81 214.04 399.32 214.02 399.82 213.99 C400.32 213.97 400.82 213.95 401.32 213.92 C401.82 213.9 402.32 213.87 402.82 213.85 C403.32 213.82 403.82 213.79 404.32 213.77 C404.83 213.74 405.33 213.72 405.83 213.69 C406.33 213.67 406.83 213.64 407.33 213.62 C407.83 213.59 408.33 213.56 408.82 213.54 C409.32 213.51 409.82 213.49 410.32 213.46 C410.82 213.44 411.32 213.41 411.82 213.38 C412.32 213.36 412.82 213.33 413.32 213.3 C413.82 213.28 414.32 213.25 414.82 213.23 C415.32 213.2 415.81 213.17 416.31 213.15 C416.81 213.12 417.31 213.1 417.81 213.07 C418.31 213.04 418.81 213.02 419.31 212.99 C419.8 212.96 420.3 212.94 420.8 212.91 C421.3 212.88 421.8 212.86 422.3 212.83 C422.8 212.81 423.29 212.78 423.79 212.75 C424.29 212.73 424.79 212.7 425.29 212.67 C425.79 212.65 426.29 212.62 426.78 212.6 C427.28 212.57 427.78 212.54 428.28 212.52 C428.78 212.49 429.28 212.47 429.78 212.44 C430.27 212.41 430.77 212.39 431.27 212.36 C431.77 212.34 432.27 212.31 432.77 212.28 C433.27 212.26 433.77 212.23 434.26 212.2 C434.76 212.18 435.26 212.15 435.76 212.12 C436.26 212.09 436.76 212.06 437.26 212.03 C437.75 212 438.25 211.97 438.75 211.94 C439.25 211.91 439.75 211.88 440.25 211.84 C440.74 211.81 441.24 211.78 441.74 211.74 C442.24 211.7 442.73 211.67 443.23 211.63 C443.73 211.59 444.23 211.55 444.72 211.51 C445.22 211.47 445.72 211.42 446.21 211.38 C446.71 211.33 447.21 211.29 447.7 211.24 C448.2 211.19 448.7 211.14 449.19 211.08 C449.69 211.03 450.18 210.97 450.68 210.92 C451.17 210.86 451.67 210.8 452.16 210.73 C452.66 210.67 453.15 210.61 453.65 210.54 C454.14 210.47 454.63 210.4 455.13 210.32 C455.62 210.25 456.11 210.17 456.61 210.09 C457.1 210.01 457.59 209.93 458.08 209.84 C458.58 209.75 459.07 209.66 459.56 209.56 C460.05 209.46 460.54 209.36 461.03 209.25 C461.52 209.15 462.01 209.04 462.5 208.92 C462.99 208.81 463.48 208.69 463.97 208.56 C464.45 208.44 464.94 208.31 465.43 208.17 C465.92 208.03 466.4 207.89 466.89 207.75 C467.38 207.6 467.86 207.45 468.35 207.3 C468.83 207.15 469.32 207 469.8 206.84 C470.29 206.68 470.77 206.53 471.25 206.37 C471.74 206.21 472.22 206.05 472.7 205.89 C473.18 205.73 473.66 205.58 474.14 205.42 C474.62 205.26 475.1 205.11 475.58 204.95 C476.06 204.8 476.54 204.65 477.02 204.49 C477.5 204.34 477.98 204.19 478.45 204.04 C478.93 203.89 479.4 203.74 479.88 203.59 C480.36 203.44 480.83 203.29 481.31 203.14 C481.78 203 482.25 202.85 482.73 202.7 C483.2 202.55 483.67 202.4 484.14 202.25 C484.62 202.1 485.09 201.95 485.56 201.8 C486.03 201.64 486.5 201.49 486.97 201.34 C487.44 201.18 487.91 201.03 488.38 200.87 C488.85 200.72 489.32 200.56 489.78 200.4 C490.25 200.24 490.72 200.08 491.19 199.91 C491.65 199.75 492.12 199.58 492.58 199.41 C493.05 199.25 493.52 199.08 493.98 198.9 C494.45 198.73 494.91 198.55 495.37 198.37 C495.84 198.2 496.3 198.01 496.76 197.83 C497.23 197.64 497.69 197.45 498.15 197.26 C498.61 197.07 499.08 196.87 499.54 196.67 C500 196.47 500.46 196.27 500.92 196.06 C501.38 195.85 501.84 195.64 502.3 195.43 C502.76 195.21 503.22 194.99 503.68 194.76 C504.13 194.54 504.59 194.31 505.05 194.07 C505.51 193.84 505.97 193.59 506.42 193.35 C506.88 193.11 507.33 192.87 507.78 192.64 C508.23 192.41 508.68 192.18 509.12 191.96 C509.56 191.75 510 191.55 510.42 191.34 C510.85 191.14 511.27 190.94 511.69 190.72 C512.1 190.5 512.51 190.28 512.9 190.02 C513.29 189.76 513.68 189.48 514.05 189.17 C514.43 188.86 514.79 188.52 515.14 188.16 C515.5 187.81 515.84 187.43 516.18 187.04 C516.51 186.66 516.84 186.25 517.16 185.85 C517.48 185.45 517.8 185.03 518.1 184.62 C518.41 184.21 518.71 183.8 519 183.39 C519.3 182.98 519.58 182.57 519.87 182.15 C520.15 181.74 520.43 181.33 520.7 180.91 C520.97 180.5 521.24 180.09 521.51 179.67 C521.77 179.25 522.03 178.84 522.3 178.42 C522.56 178 522.81 177.58 523.07 177.16 C523.32 176.74 523.58 176.32 523.83 175.9 C524.08 175.47 524.34 175.05 524.59 174.62 C524.84 174.19 525.09 173.77 525.34 173.34 C525.59 172.91 525.85 172.47 526.1 172.04 C526.35 171.61 526.6 171.17 526.84 170.74 C527.09 170.3 527.34 169.86 527.59 169.42 C527.83 168.98 528.08 168.54 528.32 168.1 C528.57 167.66 528.81 167.22 529.05 166.77 C529.29 166.33 529.54 165.88 529.77 165.43 C530.01 164.99 530.25 164.54 530.48 164.09 C530.72 163.64 530.95 163.19 531.18 162.73 C531.41 162.28 531.64 161.83 531.87 161.37 C532.1 160.92 532.32 160.46 532.54 160.01 C532.77 159.55 532.99 159.09 533.2 158.63 C533.42 158.17 533.63 157.71 533.85 157.25 C534.06 156.79 534.27 156.33 534.47 155.86 C534.68 155.4 534.88 154.94 535.08 154.47 C535.28 154.01 535.48 153.54 535.67 153.08 C535.86 152.61 536.05 152.14 536.24 151.67 C536.43 151.2 536.61 150.74 536.79 150.27 C536.97 149.8 537.14 149.32 537.31 148.85 C537.48 148.38 537.65 147.91 537.81 147.44 C537.97 146.97 538.13 146.49 538.29 146.02 C538.44 145.54 538.59 145.07 538.74 144.59 C538.88 144.12 539.02 143.64 539.16 143.17 C539.3 142.69 539.43 142.22 539.56 141.74 C539.69 141.26 539.81 140.78 539.94 140.3 C540.06 139.83 540.18 139.35 540.29 138.87 C540.41 138.39 540.52 137.91 540.63 137.43 C540.74 136.95 540.85 136.47 540.95 135.99 C541.06 135.51 541.16 135.02 541.26 134.54 C541.36 134.06 541.46 133.58 541.56 133.09 C541.66 132.61 541.75 132.13 541.85 131.64 C541.94 131.16 542.04 130.68 542.13 130.19 C542.23 129.71 542.32 129.22 542.41 128.74 C542.5 128.25 542.59 127.76 542.69 127.28 C542.78 126.79 542.87 126.3 542.96 125.82 C543.05 125.33 543.15 124.84 543.24 124.35 C543.33 123.87 543.43 123.38 543.52 122.89 C543.62 122.4 543.71 121.91 543.81 121.42 C543.91 120.93 544.01 120.44 544.11 119.95 C544.21 119.46 544.31 118.97 544.41 118.48 C544.52 117.99 544.62 117.5 544.73 117.01 C544.83 116.52 544.94 116.02 545.05 115.53 C545.15 115.04 545.26 114.55 545.37 114.06 C545.47 113.56 545.58 113.07 545.69 112.58 C545.79 112.08 545.9 111.59 546.01 111.1 C546.11 110.6 546.22 110.11 546.32 109.61 C546.43 109.12 546.53 108.62 546.63 108.13 C546.73 107.63 546.83 107.14 546.93 106.64 C547.03 106.15 547.13 105.65 547.22 105.16 C547.32 104.66 547.41 104.17 547.5 103.67 C547.59 103.17 547.68 102.68 547.77 102.18 C547.85 101.68 547.94 101.19 548.02 100.69 C548.1 100.19 548.18 99.7 548.26 99.2 C548.34 98.7 548.41 98.2 548.49 97.71 C548.56 97.21 548.64 96.71 548.71 96.21 C548.78 95.71 548.85 95.22 548.91 94.72 C548.98 94.22 549.05 93.72 549.11 93.22 C549.18 92.72 549.24 92.23 549.3 91.73 C549.36 91.23 549.42 90.73 549.48 90.23 C549.54 89.73 549.6 89.23 549.66 88.73 C549.71 88.23 549.77 87.73 549.82 87.24 C549.88 86.74 549.93 86.24 549.98 85.74 C550.03 85.24 550.08 84.74 550.13 84.24 C550.18 83.74 550.23 83.24 550.28 82.74 C550.33 82.24 550.37 81.74 550.42 81.24 C550.47 80.74 550.51 80.24 550.56 79.74 C550.6 79.24 550.65 78.74 550.69 78.24 C550.73 77.74 550.78 77.24 550.82 76.74 C550.86 76.24 550.9 75.74 550.94 75.24 C550.99 74.74 551.03 74.24 551.07 73.74 C551.11 73.24 551.15 72.74 551.19 72.25 C551.23 71.75 551.27 71.25 551.31 70.75 C551.35 70.25 551.39 69.75 551.43 69.25 C551.47 68.75 551.51 68.25 551.55 67.75 C551.59 67.25 551.63 66.75 551.67 66.25 C551.71 65.75 551.75 65.25 551.79 64.76 C551.83 64.26 551.87 63.76 551.91 63.26 C551.96 62.76 552 62.26 552.04 61.76 C552.08 61.27 552.12 60.77 552.17 60.27 C552.21 59.77 552.25 59.27 552.3 58.78 C552.34 58.28 552.39 57.78 552.43 57.28 C552.48 56.79 552.52 56.29 552.57 55.79 C552.62 55.29 552.66 54.8 552.71 54.3 C552.76 53.8 552.81 53.31 552.86 52.81 C552.91 52.31 552.96 51.82 553.02 51.32 C553.07 50.83 553.12 50.33 553.18 49.84 C553.23 49.34 553.29 48.84 553.35 48.35 C553.4 47.85 553.46 47.36 553.52 46.87 C553.58 46.37 553.64 45.88 553.71 45.38 C553.77 44.89 553.87 44.15 553.9 43.9" stroke="#dc2b3c" stroke-width="1.8" fill="none" stroke-linejoin="round" stroke-linecap="round"/>
<rect x="332.5" y="13.3" width="256.2" height="206.3" fill="none" stroke="#7d7d7d" stroke-width="1.3"/>
<path d="M332.5 13.3V219.6" stroke="#6a6a6a" stroke-width="1.3"/>
<path d="M332.5 219.6V223M375.2 219.6V223M417.9 219.6V223M460.6 219.6V223M503.3 219.6V223M546 219.6V223M588.7 219.6V223M353.85 219.6V221.4M396.55 219.6V221.4M439.25 219.6V221.4M481.95 219.6V221.4M524.65 219.6V221.4M567.35 219.6V221.4M332.5 219.6H329.1M332.5 190.13H329.1M332.5 160.66H329.1M332.5 131.19H329.1M332.5 101.71H329.1M332.5 72.24H329.1M332.5 42.77H329.1M332.5 13.3H329.1M332.5 204.86H330.7M332.5 175.39H330.7M332.5 145.92H330.7M332.5 116.45H330.7M332.5 86.98H330.7M332.5 57.51H330.7M332.5 28.04H330.7" stroke="#7d7d7d" stroke-width="1.0" fill="none"/>
<text x="326.7" y="222.2" font-size="8.7" text-anchor="end" font-weight="bold" fill="#111" stroke="#111" stroke-width="0.3">0</text>
<text x="326.7" y="192.73" font-size="8.7" text-anchor="end" font-weight="bold" fill="#111" stroke="#111" stroke-width="0.3">10</text>
<text x="326.7" y="163.26" font-size="8.7" text-anchor="end" font-weight="bold" fill="#111" stroke="#111" stroke-width="0.3">20</text>
<text x="326.7" y="133.79" font-size="8.7" text-anchor="end" font-weight="bold" fill="#111" stroke="#111" stroke-width="0.3">30</text>
<text x="326.7" y="104.31" font-size="8.7" text-anchor="end" font-weight="bold" fill="#111" stroke="#111" stroke-width="0.3">40</text>
<text x="326.7" y="74.84" font-size="8.7" text-anchor="end" font-weight="bold" fill="#111" stroke="#111" stroke-width="0.3">50</text>
<text x="326.7" y="45.37" font-size="8.7" text-anchor="end" font-weight="bold" fill="#111" stroke="#111" stroke-width="0.3">60</text>
<text x="326.7" y="15.9" font-size="8.7" text-anchor="end" font-weight="bold" fill="#111" stroke="#111" stroke-width="0.3">70</text>
<text x="332.5" y="232.3" font-size="8.7" text-anchor="middle" font-weight="bold" fill="#111" stroke="#111" stroke-width="0.3">5</text>
<text x="375.2" y="232.3" font-size="8.7" text-anchor="middle" font-weight="bold" fill="#111" stroke="#111" stroke-width="0.3">10</text>
<text x="417.9" y="232.3" font-size="8.7" text-anchor="middle" font-weight="bold" fill="#111" stroke="#111" stroke-width="0.3">15</text>
<text x="460.6" y="232.3" font-size="8.7" text-anchor="middle" font-weight="bold" fill="#111" stroke="#111" stroke-width="0.3">20</text>
<text x="503.3" y="232.3" font-size="8.7" text-anchor="middle" font-weight="bold" fill="#111" stroke="#111" stroke-width="0.3">25</text>
<text x="546" y="232.3" font-size="8.7" text-anchor="middle" font-weight="bold" fill="#111" stroke="#111" stroke-width="0.3">30</text>
<text x="588.7" y="232.3" font-size="8.7" text-anchor="middle" font-weight="bold" fill="#111" stroke="#111" stroke-width="0.3">35</text>
<text x="460.9" y="250.2" font-size="10.6" text-anchor="middle" font-weight="bold" fill="#111" stroke="#111" stroke-width="0.3" textLength="48.2" lengthAdjust="spacingAndGlyphs">Re (Ohm)</text>
<text x="0" y="0" font-size="10.8" font-weight="bold" fill="#111" stroke="#111" stroke-width="0.3" text-anchor="middle" textLength="46.6" lengthAdjust="spacingAndGlyphs" transform="translate(311.9 117.2) rotate(-90)">Im (Ohm)</text>
<path d="M340 45H361.7" stroke="#343434" stroke-width="1.4"/>
<path d="M340 56.3H361.7" stroke="#dc2b3c" stroke-width="1.4"/>
<text x="364.7" y="47.6" font-size="9.2" text-anchor="start" font-weight="bold" fill="#111" stroke="#111" stroke-width="0.3" textLength="59.5" lengthAdjust="spacingAndGlyphs">RH<tspan dy="0.92" stroke="#111" stroke-width="0.51">_</tspan><tspan dy="-0.92">80</tspan><tspan dy="0.92" stroke="#111" stroke-width="0.51">_</tspan><tspan dy="-0.92">10</tspan><tspan dy="0.92" stroke="#111" stroke-width="0.51">_</tspan><tspan dy="-0.92">10</tspan></text>
<text x="364.7" y="59.2" font-size="9.2" text-anchor="start" font-weight="bold" fill="#111" stroke="#111" stroke-width="0.3" textLength="54.6" lengthAdjust="spacingAndGlyphs">RH<tspan dy="0.92" stroke="#111" stroke-width="0.51">_</tspan><tspan dy="-0.92">85</tspan><tspan dy="0.92" stroke="#111" stroke-width="0.51">_</tspan><tspan dy="-0.92">10</tspan><tspan dy="0.92" stroke="#111" stroke-width="0.51">_</tspan><tspan dy="-0.92">5</tspan></text>
<circle cx="573.4" cy="24.7" r="7.2" fill="#fff" stroke="#000" stroke-width="1.6"/>
<text x="573.1" y="29.5" font-size="12.6" text-anchor="middle" fill="#000" stroke="#000" stroke-width="0.15">b</text>
<rect x="344.6" y="71" width="100.9" height="79.2" fill="#fff"/>
<path d="M355.05 149.9 C355.31 149.52 356.03 148.31 356.6 147.6 C357.17 146.89 357.43 146.26 358.45 145.65 C359.47 145.04 361.14 144.32 362.7 143.95 C364.26 143.57 365.82 143.31 367.8 143.4 C369.78 143.49 372.05 144.12 374.6 144.5 C377.15 144.88 380.83 145.6 383.1 145.65 C385.37 145.7 386.5 145.37 388.2 144.8 C389.9 144.23 391.6 143.24 393.3 142.25 C395 141.26 396.7 140.41 398.4 138.85 C400.1 137.29 401.8 134.88 403.5 132.9 C405.2 130.93 406.62 129.12 408.6 127 C410.58 124.88 413.42 122.43 415.4 120.15 C417.38 117.88 418.8 115.9 420.5 113.35 C422.2 110.8 424.18 107.68 425.6 104.85 C427.02 102.02 428.01 99.61 429 96.35 C429.99 93.09 430.78 89.49 431.55 85.3 C432.32 81.11 433.26 73.55 433.6 71.2" stroke="#333" stroke-width="1.4" fill="none" stroke-linejoin="round" stroke-linecap="round"/>
<path d="M363.55 150.1 C363.83 149.64 364.26 148.38 365.25 147.35 C366.24 146.32 367.38 144.8 369.5 143.95 C371.62 143.1 373.75 142.9 378 142.25 C382.25 141.6 389.33 140.9 395 140.05 C400.67 139.2 406.33 138 412 137.15 C417.67 136.3 424.75 135.52 429 134.95 C433.25 134.38 435.38 134.23 437.5 133.75 C439.62 133.27 440.42 132.59 441.75 132.05 C443.08 131.51 444.88 130.76 445.5 130.5" stroke="#e0303f" stroke-width="1.4" fill="none" stroke-linejoin="round" stroke-linecap="round"/>
<rect x="344.6" y="71" width="100.9" height="79.2" fill="none" stroke="#999" stroke-width="0.9"/>
<path d="M351.33 150.2V151.8M364.78 150.2V151.8M378.23 150.2V151.8M391.69 150.2V151.8M405.14 150.2V151.8M418.59 150.2V151.8M432.05 150.2V151.8M445.5 150.2V151.8M344.6 150.2V151.1M351.33 150.2V151.1M358.05 150.2V151.1M364.78 150.2V151.1M371.51 150.2V151.1M378.23 150.2V151.1M384.96 150.2V151.1M391.69 150.2V151.1M398.41 150.2V151.1M405.14 150.2V151.1M411.87 150.2V151.1M418.59 150.2V151.1M425.32 150.2V151.1M432.05 150.2V151.1M438.77 150.2V151.1M344.6 150.2H343M344.6 139.64H343M344.6 129.08H343M344.6 118.52H343M344.6 107.96H343M344.6 97.4H343M344.6 86.84H343M344.6 76.28H343M344.6 144.92H343.7M344.6 134.36H343.7M344.6 123.8H343.7M344.6 113.24H343.7M344.6 102.68H343.7M344.6 92.12H343.7M344.6 81.56H343.7M344.6 71H343.7" stroke="#8a8a8a" stroke-width="0.7" fill="none"/>
<text x="342.2" y="151.8" font-size="4.5" text-anchor="end" font-weight="bold" fill="#222">0</text>
<text x="342.2" y="141.24" font-size="4.5" text-anchor="end" font-weight="bold" fill="#222">2</text>
<text x="342.2" y="130.68" font-size="4.5" text-anchor="end" font-weight="bold" fill="#222">4</text>
<text x="342.2" y="120.12" font-size="4.5" text-anchor="end" font-weight="bold" fill="#222">6</text>
<text x="342.2" y="109.56" font-size="4.5" text-anchor="end" font-weight="bold" fill="#222">8</text>
<text x="342.2" y="99" font-size="4.5" text-anchor="end" font-weight="bold" fill="#222">10</text>
<text x="342.2" y="88.44" font-size="4.5" text-anchor="end" font-weight="bold" fill="#222">12</text>
<text x="342.2" y="77.88" font-size="4.5" text-anchor="end" font-weight="bold" fill="#222">14</text>
<text x="351.33" y="157.2" font-size="4.5" text-anchor="middle" font-weight="bold" fill="#222">6</text>
<text x="364.78" y="157.2" font-size="4.5" text-anchor="middle" font-weight="bold" fill="#222">8</text>
<text x="378.23" y="157.2" font-size="4.5" text-anchor="middle" font-weight="bold" fill="#222">10</text>
<text x="391.69" y="157.2" font-size="4.5" text-anchor="middle" font-weight="bold" fill="#222">12</text>
<text x="405.14" y="157.2" font-size="4.5" text-anchor="middle" font-weight="bold" fill="#222">14</text>
<text x="418.59" y="157.2" font-size="4.5" text-anchor="middle" font-weight="bold" fill="#222">16</text>
<text x="432.05" y="157.2" font-size="4.5" text-anchor="middle" font-weight="bold" fill="#222">18</text>
<text x="445.5" y="157.2" font-size="4.5" text-anchor="middle" font-weight="bold" fill="#222">20</text>
<path d="M62.48 462.69 C62.7 462.54 63.33 462.06 63.76 461.76 C64.19 461.47 64.62 461.19 65.06 460.93 C65.5 460.67 65.94 460.42 66.38 460.19 C66.83 459.96 67.28 459.74 67.73 459.53 C68.18 459.33 68.63 459.13 69.09 458.95 C69.55 458.77 70.01 458.61 70.47 458.45 C70.94 458.29 71.4 458.15 71.87 458.02 C72.34 457.88 72.82 457.76 73.29 457.64 C73.76 457.53 74.24 457.43 74.72 457.33 C75.2 457.24 75.68 457.15 76.16 457.07 C76.65 456.99 77.13 456.92 77.62 456.86 C78.1 456.8 78.59 456.74 79.08 456.69 C79.57 456.64 80.07 456.59 80.56 456.56 C81.05 456.52 81.55 456.48 82.04 456.45 C82.54 456.43 83.03 456.4 83.53 456.38 C84.03 456.36 84.53 456.34 85.03 456.33 C85.53 456.31 86.03 456.3 86.53 456.29 C87.03 456.28 87.53 456.28 88.03 456.27 C88.53 456.27 89.04 456.27 89.54 456.27 C90.04 456.28 90.55 456.28 91.05 456.29 C91.56 456.3 92.06 456.31 92.57 456.32 C93.07 456.33 93.58 456.34 94.08 456.36 C94.59 456.38 95.1 456.4 95.61 456.42 C96.11 456.44 96.62 456.46 97.13 456.49 C97.64 456.51 98.15 456.54 98.65 456.57 C99.16 456.59 99.67 456.62 100.18 456.66 C100.69 456.69 101.2 456.72 101.71 456.75 C102.22 456.79 102.73 456.82 103.24 456.86 C103.75 456.9 104.26 456.94 104.77 456.97 C105.28 457.01 105.79 457.05 106.3 457.09 C106.81 457.14 107.32 457.18 107.83 457.22 C108.34 457.26 108.84 457.31 109.35 457.35 C109.86 457.39 110.37 457.44 110.88 457.48 C111.39 457.53 111.9 457.57 112.41 457.62 C112.92 457.67 113.43 457.71 113.93 457.76 C114.44 457.8 114.95 457.85 115.46 457.9 C115.96 457.94 116.47 457.99 116.98 458.03 C117.48 458.08 117.99 458.13 118.5 458.17 C119 458.22 119.51 458.26 120.01 458.31 C120.52 458.35 121.02 458.39 121.52 458.44 C122.03 458.48 122.53 458.52 123.03 458.57 C123.53 458.61 124.04 458.65 124.54 458.69 C125.04 458.73 125.54 458.77 126.04 458.8 C126.54 458.84 127.04 458.88 127.54 458.91 C128.04 458.95 128.54 458.98 129.04 459.01 C129.53 459.05 130.03 459.08 130.53 459.11 C131.03 459.13 131.52 459.16 132.02 459.19 C132.52 459.21 133.01 459.24 133.51 459.26 C134 459.28 134.5 459.3 134.99 459.32 C135.49 459.33 135.98 459.35 136.47 459.36 C136.97 459.37 137.46 459.39 137.96 459.39 C138.45 459.4 138.94 459.41 139.43 459.41 C139.93 459.41 140.42 459.41 140.91 459.41 C141.4 459.41 141.89 459.4 142.38 459.39 C142.87 459.38 143.36 459.37 143.85 459.36 C144.34 459.34 144.83 459.32 145.32 459.3 C145.81 459.28 146.3 459.25 146.79 459.23 C147.28 459.2 147.77 459.16 148.26 459.13 C148.74 459.09 149.23 459.05 149.72 459.01 C150.21 458.97 150.69 458.92 151.18 458.87 C151.67 458.82 152.16 458.76 152.64 458.7 C153.13 458.64 153.61 458.58 154.1 458.51 C154.59 458.44 155.07 458.37 155.56 458.29 C156.04 458.22 156.53 458.13 157.01 458.05 C157.5 457.96 157.98 457.87 158.47 457.77 C158.95 457.68 159.44 457.58 159.92 457.47 C160.41 457.37 160.89 457.26 161.38 457.15 C161.86 457.03 162.34 456.92 162.83 456.79 C163.31 456.67 163.8 456.55 164.28 456.42 C164.76 456.29 165.25 456.16 165.73 456.02 C166.21 455.89 166.69 455.75 167.18 455.61 C167.66 455.46 168.14 455.32 168.63 455.17 C169.11 455.02 169.59 454.87 170.07 454.72 C170.56 454.57 171.04 454.41 171.52 454.26 C172 454.1 172.49 453.94 172.97 453.78 C173.45 453.61 173.93 453.45 174.42 453.29 C174.9 453.12 175.38 452.95 175.86 452.79 C176.34 452.62 176.83 452.45 177.31 452.28 C177.79 452.11 178.27 451.94 178.76 451.76 C179.24 451.59 179.72 451.42 180.2 451.24 C180.68 451.07 181.17 450.9 181.65 450.72 C182.13 450.55 182.61 450.37 183.09 450.2 C183.58 450.02 184.06 449.85 184.54 449.67 C185.02 449.5 185.51 449.33 185.99 449.15 C186.47 448.98 186.95 448.81 187.44 448.63 C187.92 448.46 188.4 448.29 188.89 448.12 C189.37 447.95 189.85 447.78 190.33 447.61 C190.82 447.45 191.3 447.28 191.78 447.11 C192.27 446.95 192.75 446.79 193.23 446.63 C193.72 446.47 194.2 446.31 194.69 446.15 C195.17 445.99 195.65 445.84 196.14 445.69 C196.62 445.53 197.11 445.38 197.59 445.24 C198.08 445.09 198.56 444.94 199.04 444.79 C199.53 444.65 200.01 444.5 200.5 444.36 C200.98 444.22 201.46 444.07 201.95 443.93 C202.43 443.79 202.91 443.65 203.4 443.51 C203.88 443.36 204.36 443.22 204.84 443.08 C205.33 442.94 205.81 442.8 206.29 442.66 C206.77 442.51 207.25 442.37 207.73 442.22 C208.21 442.08 208.69 441.93 209.16 441.79 C209.64 441.64 210.12 441.49 210.59 441.34 C211.07 441.19 211.55 441.04 212.02 440.89 C212.49 440.73 212.97 440.57 213.44 440.42 C213.91 440.26 214.38 440.09 214.85 439.93 C215.32 439.76 215.79 439.6 216.26 439.43 C216.73 439.25 217.19 439.08 217.66 438.9 C218.12 438.72 218.58 438.54 219.05 438.36 C219.51 438.17 219.97 437.98 220.43 437.79 C220.88 437.6 221.34 437.4 221.8 437.2 C222.25 437.01 222.7 436.81 223.16 436.61 C223.61 436.42 224.06 436.22 224.51 436.03 C224.95 435.83 225.4 435.64 225.84 435.44 C226.29 435.25 226.73 435.06 227.17 434.87 C227.61 434.67 228.05 434.48 228.48 434.28 C228.92 434.07 229.35 433.87 229.78 433.65 C230.21 433.44 230.64 433.21 231.07 432.98 C231.5 432.75 231.92 432.51 232.34 432.26 C232.76 432.01 233.18 431.75 233.59 431.49 C234.01 431.22 234.42 430.95 234.83 430.67 C235.24 430.38 235.65 430.1 236.05 429.8 C236.45 429.51 236.85 429.2 237.25 428.89 C237.64 428.58 238.03 428.27 238.42 427.95 C238.81 427.62 239.19 427.29 239.57 426.96 C239.95 426.63 240.33 426.28 240.7 425.94 C241.07 425.59 241.44 425.24 241.81 424.88 C242.17 424.53 242.53 424.17 242.89 423.8 C243.25 423.43 243.6 423.06 243.95 422.68 C244.3 422.31 244.64 421.93 244.99 421.54 C245.33 421.16 245.66 420.77 246 420.38 C246.33 419.99 246.66 419.59 246.99 419.19 C247.31 418.79 247.63 418.39 247.95 417.98 C248.27 417.58 248.58 417.17 248.89 416.76 C249.2 416.35 249.51 415.93 249.81 415.52 C250.11 415.1 250.41 414.69 250.7 414.27 C251 413.85 251.29 413.43 251.57 413.01 C251.86 412.58 252.14 412.16 252.42 411.73 C252.69 411.31 252.97 410.88 253.24 410.46 C253.51 410.03 253.77 409.6 254.03 409.17 C254.3 408.74 254.55 408.31 254.81 407.87 C255.06 407.44 255.31 407.01 255.56 406.57 C255.81 406.13 256.05 405.7 256.29 405.26 C256.53 404.82 256.77 404.38 257 403.94 C257.23 403.5 257.46 403.06 257.69 402.62 C257.91 402.17 258.14 401.73 258.36 401.28 C258.57 400.84 258.79 400.39 259 399.94 C259.22 399.5 259.42 399.05 259.63 398.6 C259.84 398.15 260.04 397.7 260.24 397.24 C260.44 396.79 260.64 396.34 260.83 395.88 C261.02 395.43 261.21 394.97 261.4 394.52 C261.59 394.06 261.77 393.6 261.96 393.14 C262.14 392.69 262.32 392.23 262.49 391.77 C262.67 391.3 262.84 390.84 263.01 390.38 C263.18 389.92 263.35 389.45 263.52 388.99 C263.68 388.52 263.84 388.06 264 387.59 C264.16 387.13 264.32 386.66 264.48 386.19 C264.63 385.72 264.78 385.25 264.93 384.78 C265.08 384.31 265.23 383.84 265.38 383.37 C265.52 382.89 265.66 382.42 265.81 381.95 C265.95 381.47 266.08 381 266.22 380.52 C266.36 380.05 266.49 379.57 266.62 379.09 C266.75 378.62 266.88 378.14 267.01 377.66 C267.14 377.18 267.27 376.7 267.39 376.22 C267.51 375.74 267.63 375.26 267.75 374.78 C267.87 374.3 267.99 373.81 268.11 373.33 C268.23 372.85 268.34 372.36 268.45 371.88 C268.57 371.39 268.68 370.91 268.79 370.42 C268.9 369.93 269 369.45 269.11 368.96 C269.22 368.47 269.32 367.98 269.42 367.49 C269.53 367.01 269.63 366.52 269.73 366.03 C269.83 365.54 269.93 365.05 270.03 364.55 C270.12 364.06 270.22 363.57 270.31 363.08 C270.41 362.59 270.5 362.09 270.59 361.6 C270.69 361.11 270.78 360.61 270.87 360.12 C270.96 359.62 271.05 359.13 271.14 358.63 C271.22 358.14 271.31 357.64 271.4 357.14 C271.48 356.65 271.57 356.15 271.65 355.65 C271.74 355.15 271.82 354.66 271.9 354.16 C271.99 353.66 272.07 353.16 272.15 352.66 C272.23 352.16 272.31 351.66 272.39 351.16 C272.47 350.66 272.55 350.16 272.63 349.66 C272.71 349.16 272.78 348.66 272.86 348.16 C272.94 347.66 273.01 347.15 273.09 346.65 C273.16 346.15 273.24 345.65 273.31 345.14 C273.39 344.64 273.46 344.14 273.53 343.64 C273.61 343.13 273.68 342.63 273.75 342.12 C273.82 341.62 273.89 341.12 273.96 340.61 C274.03 340.11 274.1 339.6 274.17 339.1 C274.24 338.59 274.31 338.09 274.37 337.58 C274.44 337.08 274.51 336.57 274.57 336.07 C274.64 335.56 274.7 335.06 274.77 334.55 C274.83 334.04 274.89 333.54 274.96 333.03 C275.02 332.53 275.08 332.02 275.14 331.51 C275.2 331.01 275.27 330.5 275.33 330 C275.39 329.49 275.44 328.98 275.5 328.48 C275.56 327.97 275.62 327.46 275.68 326.96 C275.73 326.45 275.79 325.94 275.85 325.44 C275.9 324.93 275.96 324.42 276.01 323.92 C276.06 323.41 276.12 322.9 276.17 322.4 C276.22 321.89 276.28 321.39 276.33 320.88 C276.38 320.37 276.43 319.87 276.48 319.36 C276.53 318.85 276.58 318.35 276.63 317.84 C276.67 317.34 276.72 316.83 276.77 316.32 C276.82 315.82 276.86 315.31 276.91 314.81 C276.95 314.3 277 313.8 277.04 313.29 C277.09 312.79 277.13 312.28 277.17 311.78 C277.21 311.27 277.26 310.77 277.3 310.26 C277.34 309.76 277.38 309.26 277.42 308.75 C277.46 308.25 277.5 307.74 277.54 307.24 C277.57 306.74 277.61 306.23 277.65 305.73 C277.68 305.23 277.72 304.73 277.76 304.23 C277.79 303.72 277.82 303.22 277.86 302.72 C277.89 302.22 277.93 301.72 277.96 301.22 C277.99 300.72 278.02 300.22 278.05 299.72 C278.08 299.22 278.11 298.72 278.14 298.22 C278.17 297.72 278.2 297.22 278.23 296.72 C278.25 296.22 278.28 295.73 278.31 295.23 C278.33 294.73 278.36 294.23 278.38 293.74 C278.41 293.24 278.43 292.74 278.46 292.25 C278.48 291.75 278.5 291.26 278.52 290.76 C278.54 290.27 278.57 289.78 278.59 289.28 C278.61 288.79 278.63 288.3 278.64 287.8 C278.66 287.31 278.68 286.82 278.7 286.33 C278.71 285.84 278.73 285.35 278.75 284.86 C278.76 284.37 278.78 283.88 278.79 283.39 C278.81 282.9 278.82 282.41 278.83 281.93 C278.84 281.44 278.86 280.95 278.87 280.47 C278.88 279.98 278.89 279.25 278.9 279.01" stroke="#343434" stroke-width="1.75" fill="none" stroke-linejoin="round" stroke-linecap="round"/>
<path d="M47.6 462.99 C47.84 462.91 48.57 462.66 49.06 462.51 C49.55 462.37 50.04 462.23 50.53 462.11 C51.02 461.99 51.5 461.88 51.99 461.78 C52.48 461.68 52.97 461.6 53.46 461.52 C53.95 461.44 54.44 461.37 54.93 461.3 C55.42 461.24 55.91 461.19 56.4 461.14 C56.89 461.09 57.38 461.05 57.87 461.01 C58.36 460.97 58.85 460.94 59.34 460.91 C59.83 460.88 60.32 460.86 60.81 460.84 C61.3 460.82 61.8 460.8 62.29 460.78 C62.78 460.76 63.27 460.74 63.76 460.72 C64.25 460.7 64.74 460.68 65.24 460.66 C65.73 460.64 66.22 460.62 66.71 460.59 C67.2 460.57 67.7 460.54 68.19 460.5 C68.68 460.47 69.17 460.43 69.66 460.39 C70.16 460.35 70.65 460.3 71.14 460.24 C71.63 460.19 72.13 460.13 72.62 460.07 C73.11 460.01 73.6 459.95 74.1 459.88 C74.59 459.81 75.08 459.73 75.57 459.66 C76.07 459.58 76.56 459.5 77.05 459.42 C77.54 459.34 78.04 459.26 78.53 459.17 C79.02 459.09 79.52 459 80.01 458.91 C80.5 458.82 80.99 458.73 81.49 458.64 C81.98 458.55 82.47 458.46 82.96 458.36 C83.46 458.27 83.95 458.17 84.44 458.08 C84.93 457.98 85.43 457.88 85.92 457.78 C86.41 457.68 86.9 457.58 87.4 457.48 C87.89 457.37 88.38 457.27 88.87 457.16 C89.36 457.06 89.86 456.95 90.35 456.84 C90.84 456.73 91.33 456.62 91.82 456.51 C92.32 456.4 92.81 456.28 93.3 456.16 C93.79 456.05 94.28 455.93 94.77 455.81 C95.27 455.69 95.76 455.57 96.25 455.44 C96.74 455.32 97.23 455.19 97.72 455.06 C98.21 454.93 98.7 454.8 99.19 454.67 C99.68 454.54 100.17 454.4 100.66 454.27 C101.15 454.13 101.64 453.99 102.13 453.85 C102.62 453.71 103.11 453.56 103.6 453.42 C104.09 453.27 104.58 453.13 105.07 452.98 C105.56 452.83 106.05 452.68 106.54 452.53 C107.03 452.39 107.51 452.24 108 452.08 C108.49 451.93 108.98 451.78 109.47 451.63 C109.95 451.48 110.44 451.33 110.93 451.18 C111.42 451.03 111.9 450.88 112.39 450.73 C112.88 450.58 113.36 450.43 113.85 450.29 C114.34 450.14 114.82 449.99 115.31 449.85 C115.79 449.7 116.28 449.56 116.76 449.42 C117.25 449.28 117.73 449.14 118.22 449 C118.7 448.86 119.19 448.73 119.67 448.59 C120.15 448.46 120.64 448.33 121.12 448.2 C121.6 448.08 122.09 447.95 122.57 447.83 C123.05 447.7 123.53 447.58 124.01 447.46 C124.5 447.34 124.98 447.22 125.46 447.1 C125.94 446.98 126.42 446.86 126.9 446.74 C127.38 446.62 127.86 446.49 128.34 446.37 C128.82 446.25 129.3 446.12 129.78 445.99 C130.26 445.86 130.73 445.73 131.21 445.6 C131.69 445.47 132.17 445.33 132.64 445.19 C133.12 445.05 133.6 444.91 134.07 444.77 C134.55 444.62 135.02 444.47 135.49 444.32 C135.97 444.17 136.44 444.01 136.91 443.86 C137.38 443.7 137.85 443.54 138.32 443.37 C138.79 443.21 139.25 443.04 139.72 442.86 C140.18 442.69 140.65 442.51 141.11 442.33 C141.57 442.15 142.03 441.97 142.49 441.78 C142.94 441.59 143.4 441.4 143.85 441.21 C144.31 441.01 144.76 440.81 145.21 440.6 C145.66 440.4 146.1 440.19 146.55 439.98 C146.99 439.76 147.43 439.55 147.87 439.32 C148.31 439.1 148.75 438.87 149.18 438.64 C149.61 438.41 150.04 438.17 150.47 437.93 C150.9 437.69 151.32 437.44 151.74 437.19 C152.16 436.94 152.58 436.68 153 436.42 C153.41 436.16 153.82 435.89 154.23 435.62 C154.63 435.35 155.04 435.07 155.44 434.79 C155.84 434.5 156.23 434.21 156.63 433.92 C157.02 433.63 157.4 433.33 157.79 433.02 C158.17 432.71 158.55 432.4 158.93 432.08 C159.3 431.77 159.67 431.44 160.04 431.11 C160.4 430.78 160.77 430.45 161.12 430.1 C161.48 429.76 161.83 429.41 162.18 429.06 C162.53 428.7 162.87 428.34 163.21 427.97 C163.54 427.61 163.88 427.23 164.2 426.86 C164.53 426.48 164.85 426.09 165.17 425.7 C165.49 425.31 165.8 424.92 166.11 424.52 C166.42 424.12 166.72 423.71 167.02 423.3 C167.32 422.89 167.61 422.48 167.9 422.06 C168.19 421.64 168.48 421.22 168.76 420.79 C169.04 420.37 169.31 419.94 169.58 419.5 C169.85 419.07 170.12 418.63 170.38 418.19 C170.64 417.75 170.89 417.31 171.14 416.86 C171.39 416.42 171.64 415.97 171.88 415.52 C172.12 415.06 172.36 414.61 172.59 414.16 C172.82 413.7 173.05 413.24 173.27 412.78 C173.5 412.32 173.71 411.86 173.93 411.4 C174.14 410.94 174.35 410.48 174.55 410.01 C174.76 409.55 174.96 409.08 175.15 408.62 C175.35 408.15 175.54 407.68 175.72 407.22 C175.91 406.75 176.09 406.28 176.27 405.81 C176.45 405.34 176.62 404.87 176.79 404.4 C176.96 403.93 177.12 403.46 177.28 402.98 C177.44 402.51 177.6 402.04 177.76 401.56 C177.91 401.09 178.06 400.61 178.21 400.14 C178.35 399.66 178.49 399.19 178.63 398.71 C178.77 398.23 178.91 397.75 179.04 397.28 C179.17 396.8 179.3 396.32 179.43 395.84 C179.55 395.36 179.68 394.88 179.8 394.39 C179.91 393.91 180.03 393.43 180.14 392.95 C180.26 392.47 180.37 391.98 180.48 391.5 C180.59 391.01 180.69 390.53 180.79 390.04 C180.9 389.56 181 389.07 181.09 388.59 C181.19 388.1 181.29 387.61 181.38 387.13 C181.47 386.64 181.56 386.15 181.65 385.66 C181.74 385.17 181.83 384.68 181.91 384.19 C182 383.7 182.08 383.21 182.16 382.72 C182.24 382.23 182.32 381.74 182.4 381.25 C182.47 380.75 182.55 380.26 182.62 379.77 C182.7 379.28 182.77 378.78 182.84 378.29 C182.91 377.79 182.97 377.3 183.04 376.81 C183.11 376.31 183.17 375.82 183.23 375.32 C183.3 374.82 183.36 374.33 183.42 373.83 C183.48 373.33 183.53 372.84 183.59 372.34 C183.65 371.84 183.7 371.35 183.76 370.85 C183.81 370.35 183.86 369.85 183.91 369.35 C183.96 368.85 184.01 368.35 184.06 367.85 C184.11 367.36 184.15 366.86 184.2 366.36 C184.25 365.85 184.29 365.35 184.33 364.85 C184.37 364.35 184.42 363.85 184.46 363.35 C184.5 362.85 184.54 362.35 184.57 361.85 C184.61 361.34 184.65 360.84 184.69 360.34 C184.72 359.84 184.76 359.34 184.79 358.83 C184.82 358.33 184.86 357.83 184.89 357.32 C184.92 356.82 184.95 356.32 184.98 355.81 C185.01 355.31 185.04 354.81 185.07 354.3 C185.1 353.8 185.12 353.29 185.15 352.79 C185.18 352.29 185.2 351.78 185.23 351.28 C185.25 350.77 185.28 350.27 185.3 349.76 C185.33 349.26 185.35 348.75 185.37 348.25 C185.39 347.74 185.42 347.24 185.44 346.73 C185.46 346.23 185.48 345.72 185.5 345.22 C185.52 344.71 185.54 344.21 185.56 343.7 C185.58 343.2 185.6 342.69 185.62 342.19 C185.64 341.68 185.65 341.18 185.67 340.67 C185.69 340.17 185.71 339.66 185.73 339.16 C185.74 338.65 185.76 338.15 185.78 337.64 C185.79 337.14 185.81 336.63 185.83 336.13 C185.84 335.62 185.86 335.12 185.88 334.61 C185.89 334.11 185.91 333.6 185.93 333.1 C185.94 332.6 185.96 332.09 185.97 331.59 C185.99 331.08 186.01 330.58 186.02 330.08 C186.04 329.57 186.06 329.07 186.07 328.56 C186.09 328.06 186.11 327.56 186.12 327.05 C186.14 326.55 186.16 326.05 186.17 325.54 C186.19 325.04 186.21 324.54 186.23 324.04 C186.25 323.53 186.26 323.03 186.28 322.53 C186.3 322.03 186.32 321.53 186.34 321.02 C186.36 320.52 186.38 320.02 186.4 319.52 C186.42 319.02 186.44 318.52 186.46 318.02 C186.48 317.52 186.51 317.02 186.53 316.52 C186.55 316.02 186.57 315.52 186.6 315.02 C186.62 314.52 186.65 314.02 186.67 313.52 C186.7 313.03 186.72 312.53 186.75 312.03 C186.78 311.53 186.8 311.04 186.83 310.54 C186.86 310.04 186.89 309.55 186.92 309.05 C186.95 308.55 186.98 308.06 187.01 307.56 C187.05 307.07 187.08 306.57 187.11 306.08 C187.15 305.58 187.18 305.09 187.22 304.6 C187.25 304.1 187.29 303.61 187.33 303.12 C187.37 302.63 187.41 302.13 187.45 301.64 C187.49 301.15 187.53 300.66 187.57 300.17 C187.61 299.68 187.68 298.95 187.7 298.7" stroke="#dc2b3c" stroke-width="1.8" fill="none" stroke-linejoin="round" stroke-linecap="round"/>
<rect x="37.8" y="255.9" width="256.8" height="207.1" fill="none" stroke="#7d7d7d" stroke-width="1.3"/>
<path d="M37.8 255.9V463" stroke="#6a6a6a" stroke-width="1.3"/>
<path d="M37.8 463V466.4M89.16 463V466.4M140.52 463V466.4M191.88 463V466.4M243.24 463V466.4M294.6 463V466.4M63.48 463V464.8M114.84 463V464.8M166.2 463V464.8M217.56 463V464.8M268.92 463V464.8M37.8 463H34.4M37.8 433.41H34.4M37.8 403.83H34.4M37.8 374.24H34.4M37.8 344.66H34.4M37.8 315.07H34.4M37.8 285.49H34.4M37.8 255.9H34.4M37.8 448.21H36M37.8 418.62H36M37.8 389.04H36M37.8 359.45H36M37.8 329.86H36M37.8 300.28H36M37.8 270.69H36" stroke="#7d7d7d" stroke-width="1.0" fill="none"/>
<text x="31.3" y="465.6" font-size="8.7" text-anchor="end" font-weight="bold" fill="#111" stroke="#111" stroke-width="0.3">0</text>
<text x="31.3" y="436.01" font-size="8.7" text-anchor="end" font-weight="bold" fill="#111" stroke="#111" stroke-width="0.3">10</text>
<text x="31.3" y="406.43" font-size="8.7" text-anchor="end" font-weight="bold" fill="#111" stroke="#111" stroke-width="0.3">20</text>
<text x="31.3" y="376.84" font-size="8.7" text-anchor="end" font-weight="bold" fill="#111" stroke="#111" stroke-width="0.3">30</text>
<text x="31.3" y="347.26" font-size="8.7" text-anchor="end" font-weight="bold" fill="#111" stroke="#111" stroke-width="0.3">40</text>
<text x="31.3" y="317.67" font-size="8.7" text-anchor="end" font-weight="bold" fill="#111" stroke="#111" stroke-width="0.3">50</text>
<text x="31.3" y="288.09" font-size="8.7" text-anchor="end" font-weight="bold" fill="#111" stroke="#111" stroke-width="0.3">60</text>
<text x="31.3" y="258.5" font-size="8.7" text-anchor="end" font-weight="bold" fill="#111" stroke="#111" stroke-width="0.3">70</text>
<text x="37.8" y="476.3" font-size="8.7" text-anchor="middle" font-weight="bold" fill="#111" stroke="#111" stroke-width="0.3">5</text>
<text x="89.16" y="476.3" font-size="8.7" text-anchor="middle" font-weight="bold" fill="#111" stroke="#111" stroke-width="0.3">10</text>
<text x="140.52" y="476.3" font-size="8.7" text-anchor="middle" font-weight="bold" fill="#111" stroke="#111" stroke-width="0.3">15</text>
<text x="191.88" y="476.3" font-size="8.7" text-anchor="middle" font-weight="bold" fill="#111" stroke="#111" stroke-width="0.3">20</text>
<text x="243.24" y="476.3" font-size="8.7" text-anchor="middle" font-weight="bold" fill="#111" stroke="#111" stroke-width="0.3">25</text>
<text x="294.6" y="476.3" font-size="8.7" text-anchor="middle" font-weight="bold" fill="#111" stroke="#111" stroke-width="0.3">30</text>
<text x="166" y="494.3" font-size="10.6" text-anchor="middle" font-weight="bold" fill="#111" stroke="#111" stroke-width="0.3" textLength="47.5" lengthAdjust="spacingAndGlyphs">Re (Ohm)</text>
<text x="0" y="0" font-size="10.8" font-weight="bold" fill="#111" stroke="#111" stroke-width="0.3" text-anchor="middle" textLength="48.6" lengthAdjust="spacingAndGlyphs" transform="translate(17.0 359) rotate(-90)">Im (Ohm)</text>
<path d="M43 289H70" stroke="#343434" stroke-width="1.4"/>
<path d="M43 304H70" stroke="#dc2b3c" stroke-width="1.4"/>
<text x="73" y="292.6" font-size="12" text-anchor="start" font-weight="bold" fill="#111" stroke="#111" stroke-width="0.3" textLength="79" lengthAdjust="spacingAndGlyphs">WS<tspan dy="1.2" stroke="#111" stroke-width="0.66">_</tspan><tspan dy="-1.2">80</tspan><tspan dy="1.2" stroke="#111" stroke-width="0.66">_</tspan><tspan dy="-1.2">10</tspan><tspan dy="1.2" stroke="#111" stroke-width="0.66">_</tspan><tspan dy="-1.2">10</tspan></text>
<text x="73" y="308.1" font-size="12" text-anchor="start" font-weight="bold" fill="#111" stroke="#111" stroke-width="0.3" textLength="72" lengthAdjust="spacingAndGlyphs">WS<tspan dy="1.2" stroke="#111" stroke-width="0.66">_</tspan><tspan dy="-1.2">85</tspan><tspan dy="1.2" stroke="#111" stroke-width="0.66">_</tspan><tspan dy="-1.2">10</tspan><tspan dy="1.2" stroke="#111" stroke-width="0.66">_</tspan><tspan dy="-1.2">5</tspan></text>
<rect x="53.3" y="316.8" width="107.3" height="94.6" fill="#fff"/>
<path d="M69.4 411.2 C69.58 410.77 69.98 409.52 70.5 408.6 C71.02 407.68 71.75 406.55 72.5 405.7 C73.25 404.85 74.03 404.15 75 403.5 C75.97 402.85 77.18 402.35 78.35 401.8 C79.52 401.25 80.7 400.68 82 400.2 C83.3 399.72 84.82 399.25 86.15 398.9 C87.48 398.55 88.7 398.27 90 398.1 C91.3 397.93 92.62 397.88 93.95 397.9 C95.28 397.92 96.7 398.03 98 398.2 C99.3 398.37 100.33 398.55 101.75 398.9 C103.17 399.25 104.88 399.82 106.5 400.3 C108.12 400.78 109.75 401.28 111.5 401.8 C113.25 402.32 115.05 402.93 117 403.4 C118.95 403.87 121.62 404.4 123.2 404.6 C124.78 404.8 125.53 404.68 126.5 404.6 C127.47 404.52 128.05 404.43 129.05 404.1 C130.05 403.77 131.2 403.31 132.5 402.6 C133.8 401.89 135.35 400.9 136.85 399.85 C138.35 398.8 139.88 397.6 141.5 396.3 C143.12 395 145.1 393.42 146.6 392.05 C148.1 390.68 149.2 389.4 150.5 388.1 C151.8 386.8 153.23 385.43 154.4 384.25 C155.57 383.07 156.47 381.99 157.5 381 C158.53 380.01 160.08 378.75 160.6 378.3" stroke="#333" stroke-width="1.5" fill="none" stroke-linejoin="round" stroke-linecap="round"/>
<path d="M60.4 411.3 C60.63 411.02 61.25 410.05 61.8 409.6 C62.35 409.15 63.07 408.9 63.7 408.6 C64.33 408.3 64.95 407.96 65.6 407.8 C66.25 407.64 66.93 407.58 67.6 407.65 C68.27 407.72 68.95 407.96 69.6 408.2 C70.25 408.44 70.68 408.93 71.5 409.1 C72.32 409.27 73.58 409.38 74.5 409.2 C75.42 409.02 76.03 408.52 77 408 C77.97 407.48 79.13 406.77 80.3 406.1 C81.47 405.43 82.7 404.72 84 404 C85.3 403.28 86.77 402.63 88.1 401.8 C89.43 400.97 90.7 399.97 92 399 C93.3 398.03 94.73 397.07 95.9 396 C97.07 394.93 98.03 393.75 99 392.6 C99.97 391.45 100.67 390.43 101.75 389.1 C102.83 387.77 104.2 386.06 105.5 384.6 C106.8 383.14 108.13 381.72 109.55 380.35 C110.97 378.98 112.38 377.7 114 376.4 C115.62 375.1 117.72 373.82 119.3 372.55 C120.88 371.28 122.2 370.1 123.5 368.8 C124.8 367.5 125.97 366.22 127.1 364.75 C128.23 363.28 129.32 361.62 130.3 360 C131.28 358.38 132.18 356.75 133 355 C133.82 353.25 134.56 351.45 135.2 349.5 C135.84 347.55 136.22 345.72 136.85 343.3 C137.48 340.88 138.35 337.6 139 335 C139.65 332.4 140.15 330.67 140.75 327.7 C141.35 324.73 142.29 318.95 142.6 317.2" stroke="#e0303f" stroke-width="1.5" fill="none" stroke-linejoin="round" stroke-linecap="round"/>
<rect x="53.3" y="316.8" width="107.3" height="94.6" fill="none" stroke="#999" stroke-width="0.9"/>
<path d="M60.45 411.4V413M74.76 411.4V413M89.07 411.4V413M103.37 411.4V413M117.68 411.4V413M131.99 411.4V413M146.29 411.4V413M160.6 411.4V413M53.3 411.4V412.3M60.45 411.4V412.3M67.61 411.4V412.3M74.76 411.4V412.3M81.91 411.4V412.3M89.07 411.4V412.3M96.22 411.4V412.3M103.37 411.4V412.3M110.53 411.4V412.3M117.68 411.4V412.3M124.83 411.4V412.3M131.99 411.4V412.3M139.14 411.4V412.3M146.29 411.4V412.3M153.45 411.4V412.3M53.3 411.4H51.7M53.3 398.79H51.7M53.3 386.17H51.7M53.3 373.56H51.7M53.3 360.95H51.7M53.3 348.33H51.7M53.3 335.72H51.7M53.3 323.11H51.7M53.3 405.09H52.4M53.3 392.48H52.4M53.3 379.87H52.4M53.3 367.25H52.4M53.3 354.64H52.4M53.3 342.03H52.4M53.3 329.41H52.4M53.3 316.8H52.4" stroke="#8a8a8a" stroke-width="0.7" fill="none"/>
<text x="51" y="413" font-size="4.5" text-anchor="end" font-weight="bold" fill="#222">0</text>
<text x="51" y="400.39" font-size="4.5" text-anchor="end" font-weight="bold" fill="#222">2</text>
<text x="51" y="387.77" font-size="4.5" text-anchor="end" font-weight="bold" fill="#222">4</text>
<text x="51" y="375.16" font-size="4.5" text-anchor="end" font-weight="bold" fill="#222">6</text>
<text x="51" y="362.55" font-size="4.5" text-anchor="end" font-weight="bold" fill="#222">8</text>
<text x="51" y="349.93" font-size="4.5" text-anchor="end" font-weight="bold" fill="#222">10</text>
<text x="51" y="337.32" font-size="4.5" text-anchor="end" font-weight="bold" fill="#222">12</text>
<text x="51" y="324.71" font-size="4.5" text-anchor="end" font-weight="bold" fill="#222">14</text>
<text x="60.45" y="419.2" font-size="4.5" text-anchor="middle" font-weight="bold" fill="#222">6</text>
<text x="74.76" y="419.2" font-size="4.5" text-anchor="middle" font-weight="bold" fill="#222">8</text>
<text x="89.07" y="419.2" font-size="4.5" text-anchor="middle" font-weight="bold" fill="#222">10</text>
<text x="103.37" y="419.2" font-size="4.5" text-anchor="middle" font-weight="bold" fill="#222">12</text>
<text x="117.68" y="419.2" font-size="4.5" text-anchor="middle" font-weight="bold" fill="#222">14</text>
<text x="131.99" y="419.2" font-size="4.5" text-anchor="middle" font-weight="bold" fill="#222">16</text>
<text x="146.29" y="419.2" font-size="4.5" text-anchor="middle" font-weight="bold" fill="#222">18</text>
<text x="160.6" y="419.2" font-size="4.5" text-anchor="middle" font-weight="bold" fill="#222">20</text>
<circle cx="278.4" cy="268.9" r="7.2" fill="#fff" stroke="#000" stroke-width="1.6"/>
<text x="278.1" y="273.5" font-size="11.6" text-anchor="middle" fill="#000" stroke="#000" stroke-width="0.15">c</text>
<path d="M353.65 280.96l2.9 4.4h-5.8z" fill="#1f62c6"/>
<path d="M357.38 280.4l2.9 4.4h-5.8z" fill="#1f62c6"/>
<path d="M361.11 279.84l2.9 4.4h-5.8z" fill="#1f62c6"/>
<path d="M364.85 279.27l2.9 4.4h-5.8z" fill="#1f62c6"/>
<path d="M368.58 279.61l2.9 4.4h-5.8z" fill="#1f62c6"/>
<path d="M372.31 280.44l2.9 4.4h-5.8z" fill="#1f62c6"/>
<path d="M376.04 281.37l2.9 4.4h-5.8z" fill="#1f62c6"/>
<path d="M379.78 282.3l2.9 4.4h-5.8z" fill="#1f62c6"/>
<path d="M383.51 282.97l2.9 4.4h-5.8z" fill="#1f62c6"/>
<path d="M387.24 283.61l2.9 4.4h-5.8z" fill="#1f62c6"/>
<path d="M390.97 284.25l2.9 4.4h-5.8z" fill="#1f62c6"/>
<path d="M394.71 284.76l2.9 4.4h-5.8z" fill="#1f62c6"/>
<path d="M398.44 285.25l2.9 4.4h-5.8z" fill="#1f62c6"/>
<path d="M402.17 285.73l2.9 4.4h-5.8z" fill="#1f62c6"/>
<path d="M405.9 286.22l2.9 4.4h-5.8z" fill="#1f62c6"/>
<path d="M409.64 286.46l2.9 4.4h-5.8z" fill="#1f62c6"/>
<path d="M413.37 286.61l2.9 4.4h-5.8z" fill="#1f62c6"/>
<path d="M417.1 286.75l2.9 4.4h-5.8z" fill="#1f62c6"/>
<path d="M420.83 286.9l2.9 4.4h-5.8z" fill="#1f62c6"/>
<path d="M424.57 287.18l2.9 4.4h-5.8z" fill="#1f62c6"/>
<path d="M428.3 287.57l2.9 4.4h-5.8z" fill="#1f62c6"/>
<path d="M432.03 287.95l2.9 4.4h-5.8z" fill="#1f62c6"/>
<path d="M435.76 288.33l2.9 4.4h-5.8z" fill="#1f62c6"/>
<path d="M439.5 287.74l2.9 4.4h-5.8z" fill="#1f62c6"/>
<path d="M443.23 286.57l2.9 4.4h-5.8z" fill="#1f62c6"/>
<path d="M446.96 288.1l2.9 4.4h-5.8z" fill="#1f62c6"/>
<path d="M450.69 288.66l2.9 4.4h-5.8z" fill="#1f62c6"/>
<path d="M454.43 289.22l2.9 4.4h-5.8z" fill="#1f62c6"/>
<path d="M458.16 289.77l2.9 4.4h-5.8z" fill="#1f62c6"/>
<path d="M461.89 290.03l2.9 4.4h-5.8z" fill="#1f62c6"/>
<path d="M465.62 290.3l2.9 4.4h-5.8z" fill="#1f62c6"/>
<path d="M469.36 290.56l2.9 4.4h-5.8z" fill="#1f62c6"/>
<path d="M473.09 290.83l2.9 4.4h-5.8z" fill="#1f62c6"/>
<path d="M476.82 290.66l2.9 4.4h-5.8z" fill="#1f62c6"/>
<path d="M480.55 290.03l2.9 4.4h-5.8z" fill="#1f62c6"/>
<path d="M484.29 289.41l2.9 4.4h-5.8z" fill="#1f62c6"/>
<path d="M488.02 289.04l2.9 4.4h-5.8z" fill="#1f62c6"/>
<path d="M491.75 289.33l2.9 4.4h-5.8z" fill="#1f62c6"/>
<path d="M495.48 289.62l2.9 4.4h-5.8z" fill="#1f62c6"/>
<path d="M499.22 289.91l2.9 4.4h-5.8z" fill="#1f62c6"/>
<path d="M502.95 290.2l2.9 4.4h-5.8z" fill="#1f62c6"/>
<path d="M506.68 290.36l2.9 4.4h-5.8z" fill="#1f62c6"/>
<path d="M510.41 290.36l2.9 4.4h-5.8z" fill="#1f62c6"/>
<path d="M514.15 290.36l2.9 4.4h-5.8z" fill="#1f62c6"/>
<path d="M517.88 290.36l2.9 4.4h-5.8z" fill="#1f62c6"/>
<path d="M521.61 290.36l2.9 4.4h-5.8z" fill="#1f62c6"/>
<path d="M525.34 290.43l2.9 4.4h-5.8z" fill="#1f62c6"/>
<path d="M529.08 291.18l2.9 4.4h-5.8z" fill="#1f62c6"/>
<path d="M532.81 291.48l2.9 4.4h-5.8z" fill="#1f62c6"/>
<path d="M536.54 291.32l2.9 4.4h-5.8z" fill="#1f62c6"/>
<path d="M540.27 291.16l2.9 4.4h-5.8z" fill="#1f62c6"/>
<path d="M544.01 291l2.9 4.4h-5.8z" fill="#1f62c6"/>
<path d="M547.74 290.25l2.9 4.4h-5.8z" fill="#1f62c6"/>
<path d="M551.47 289.28l2.9 4.4h-5.8z" fill="#1f62c6"/>
<path d="M555.2 288.31l2.9 4.4h-5.8z" fill="#1f62c6"/>
<path d="M558.94 287.46l2.9 4.4h-5.8z" fill="#1f62c6"/>
<path d="M562.67 286.61l2.9 4.4h-5.8z" fill="#1f62c6"/>
<path d="M566.4 285.76l2.9 4.4h-5.8z" fill="#1f62c6"/>
<path d="M350.77 326l4.8 -2.7v5.4z" fill="#d9a024"/>
<path d="M356.09 327.26l4.8 -2.7v5.4z" fill="#d9a024"/>
<path d="M361.41 328.53l4.8 -2.7v5.4z" fill="#d9a024"/>
<path d="M366.73 329.66l4.8 -2.7v5.4z" fill="#d9a024"/>
<path d="M372.04 330.79l4.8 -2.7v5.4z" fill="#d9a024"/>
<path d="M377.36 331.92l4.8 -2.7v5.4z" fill="#d9a024"/>
<path d="M382.68 332.93l4.8 -2.7v5.4z" fill="#d9a024"/>
<path d="M388 333.93l4.8 -2.7v5.4z" fill="#d9a024"/>
<path d="M393.32 334.93l4.8 -2.7v5.4z" fill="#d9a024"/>
<path d="M398.64 335.32l4.8 -2.7v5.4z" fill="#d9a024"/>
<path d="M403.96 335.67l4.8 -2.7v5.4z" fill="#d9a024"/>
<path d="M409.28 336.02l4.8 -2.7v5.4z" fill="#d9a024"/>
<path d="M414.59 336.37l4.8 -2.7v5.4z" fill="#d9a024"/>
<path d="M419.91 336.67l4.8 -2.7v5.4z" fill="#d9a024"/>
<path d="M425.23 336.98l4.8 -2.7v5.4z" fill="#d9a024"/>
<path d="M430.55 337.28l4.8 -2.7v5.4z" fill="#d9a024"/>
<path d="M435.87 337.59l4.8 -2.7v5.4z" fill="#d9a024"/>
<path d="M441.19 337.99l4.8 -2.7v5.4z" fill="#d9a024"/>
<path d="M446.51 338.41l4.8 -2.7v5.4z" fill="#d9a024"/>
<path d="M451.83 338.82l4.8 -2.7v5.4z" fill="#d9a024"/>
<path d="M457.14 339l4.8 -2.7v5.4z" fill="#d9a024"/>
<path d="M462.46 339l4.8 -2.7v5.4z" fill="#d9a024"/>
<path d="M467.78 339l4.8 -2.7v5.4z" fill="#d9a024"/>
<path d="M473.1 338.94l4.8 -2.7v5.4z" fill="#d9a024"/>
<path d="M478.42 338.61l4.8 -2.7v5.4z" fill="#d9a024"/>
<path d="M483.74 338.27l4.8 -2.7v5.4z" fill="#d9a024"/>
<path d="M489.06 337.71l4.8 -2.7v5.4z" fill="#d9a024"/>
<path d="M494.38 336.03l4.8 -2.7v5.4z" fill="#d9a024"/>
<path d="M499.69 334.36l4.8 -2.7v5.4z" fill="#d9a024"/>
<path d="M505.01 332.95l4.8 -2.7v5.4z" fill="#d9a024"/>
<path d="M510.33 331.75l4.8 -2.7v5.4z" fill="#d9a024"/>
<path d="M515.65 330.56l4.8 -2.7v5.4z" fill="#d9a024"/>
<path d="M520.97 329.31l4.8 -2.7v5.4z" fill="#d9a024"/>
<path d="M526.29 328.02l4.8 -2.7v5.4z" fill="#d9a024"/>
<path d="M531.61 326.72l4.8 -2.7v5.4z" fill="#d9a024"/>
<path d="M536.93 325.52l4.8 -2.7v5.4z" fill="#d9a024"/>
<path d="M542.25 324.32l4.8 -2.7v5.4z" fill="#d9a024"/>
<path d="M547.56 323.13l4.8 -2.7v5.4z" fill="#d9a024"/>
<path d="M552.88 321.95l4.8 -2.7v5.4z" fill="#d9a024"/>
<path d="M558.2 320.77l4.8 -2.7v5.4z" fill="#d9a024"/>
<path d="M563.52 319.6l4.8 -2.7v5.4z" fill="#d9a024"/>
<path d="M353.65 362.5l2.5 2.5l-2.5 2.5l-2.5 -2.5z" fill="#ad72de"/>
<path d="M358.97 362.95l2.5 2.5l-2.5 2.5l-2.5 -2.5z" fill="#ad72de"/>
<path d="M364.29 363.44l2.5 2.5l-2.5 2.5l-2.5 -2.5z" fill="#ad72de"/>
<path d="M369.61 363.5l2.5 2.5l-2.5 2.5l-2.5 -2.5z" fill="#ad72de"/>
<path d="M374.92 363.5l2.5 2.5l-2.5 2.5l-2.5 -2.5z" fill="#ad72de"/>
<path d="M380.24 363.5l2.5 2.5l-2.5 2.5l-2.5 -2.5z" fill="#ad72de"/>
<path d="M385.56 363.07l2.5 2.5l-2.5 2.5l-2.5 -2.5z" fill="#ad72de"/>
<path d="M390.88 362.6l2.5 2.5l-2.5 2.5l-2.5 -2.5z" fill="#ad72de"/>
<path d="M396.2 362.14l2.5 2.5l-2.5 2.5l-2.5 -2.5z" fill="#ad72de"/>
<path d="M401.52 361.49l2.5 2.5l-2.5 2.5l-2.5 -2.5z" fill="#ad72de"/>
<path d="M406.84 360.82l2.5 2.5l-2.5 2.5l-2.5 -2.5z" fill="#ad72de"/>
<path d="M412.16 360.16l2.5 2.5l-2.5 2.5l-2.5 -2.5z" fill="#ad72de"/>
<path d="M417.47 360.1l2.5 2.5l-2.5 2.5l-2.5 -2.5z" fill="#ad72de"/>
<path d="M422.79 360.1l2.5 2.5l-2.5 2.5l-2.5 -2.5z" fill="#ad72de"/>
<path d="M428.11 360.1l2.5 2.5l-2.5 2.5l-2.5 -2.5z" fill="#ad72de"/>
<path d="M433.43 360.1l2.5 2.5l-2.5 2.5l-2.5 -2.5z" fill="#ad72de"/>
<path d="M438.75 359.83l2.5 2.5l-2.5 2.5l-2.5 -2.5z" fill="#ad72de"/>
<path d="M444.07 359.53l2.5 2.5l-2.5 2.5l-2.5 -2.5z" fill="#ad72de"/>
<path d="M449.39 359.45l2.5 2.5l-2.5 2.5l-2.5 -2.5z" fill="#ad72de"/>
<path d="M454.71 359.39l2.5 2.5l-2.5 2.5l-2.5 -2.5z" fill="#ad72de"/>
<path d="M460.02 359.34l2.5 2.5l-2.5 2.5l-2.5 -2.5z" fill="#ad72de"/>
<path d="M465.34 359.32l2.5 2.5l-2.5 2.5l-2.5 -2.5z" fill="#ad72de"/>
<path d="M470.66 359.39l2.5 2.5l-2.5 2.5l-2.5 -2.5z" fill="#ad72de"/>
<path d="M475.98 359.46l2.5 2.5l-2.5 2.5l-2.5 -2.5z" fill="#ad72de"/>
<path d="M481.3 359.53l2.5 2.5l-2.5 2.5l-2.5 -2.5z" fill="#ad72de"/>
<path d="M486.62 359.59l2.5 2.5l-2.5 2.5l-2.5 -2.5z" fill="#ad72de"/>
<path d="M491.94 359.66l2.5 2.5l-2.5 2.5l-2.5 -2.5z" fill="#ad72de"/>
<path d="M497.26 359.56l2.5 2.5l-2.5 2.5l-2.5 -2.5z" fill="#ad72de"/>
<path d="M502.57 359.25l2.5 2.5l-2.5 2.5l-2.5 -2.5z" fill="#ad72de"/>
<path d="M507.89 358.93l2.5 2.5l-2.5 2.5l-2.5 -2.5z" fill="#ad72de"/>
<path d="M513.21 358.61l2.5 2.5l-2.5 2.5l-2.5 -2.5z" fill="#ad72de"/>
<path d="M518.53 358.29l2.5 2.5l-2.5 2.5l-2.5 -2.5z" fill="#ad72de"/>
<path d="M523.85 357.97l2.5 2.5l-2.5 2.5l-2.5 -2.5z" fill="#ad72de"/>
<path d="M529.17 357.48l2.5 2.5l-2.5 2.5l-2.5 -2.5z" fill="#ad72de"/>
<path d="M534.49 356.95l2.5 2.5l-2.5 2.5l-2.5 -2.5z" fill="#ad72de"/>
<path d="M539.81 356.42l2.5 2.5l-2.5 2.5l-2.5 -2.5z" fill="#ad72de"/>
<path d="M545.12 355.89l2.5 2.5l-2.5 2.5l-2.5 -2.5z" fill="#ad72de"/>
<path d="M550.44 355.39l2.5 2.5l-2.5 2.5l-2.5 -2.5z" fill="#ad72de"/>
<path d="M555.76 354.89l2.5 2.5l-2.5 2.5l-2.5 -2.5z" fill="#ad72de"/>
<path d="M561.08 354.4l2.5 2.5l-2.5 2.5l-2.5 -2.5z" fill="#ad72de"/>
<path d="M566.4 353.9l2.5 2.5l-2.5 2.5l-2.5 -2.5z" fill="#ad72de"/>
<circle cx="353.65" cy="359" r="2.1" fill="#e3101c"/>
<circle cx="359.73" cy="359.95" r="2.1" fill="#e3101c"/>
<circle cx="365.81" cy="360.97" r="2.1" fill="#e3101c"/>
<circle cx="371.89" cy="361.98" r="2.1" fill="#e3101c"/>
<circle cx="377.96" cy="359.29" r="2.1" fill="#e3101c"/>
<circle cx="384.04" cy="359" r="2.1" fill="#e3101c"/>
<circle cx="390.12" cy="358.82" r="2.1" fill="#e3101c"/>
<circle cx="396.2" cy="358.61" r="2.1" fill="#e3101c"/>
<circle cx="402.28" cy="357.71" r="2.1" fill="#e3101c"/>
<circle cx="408.36" cy="357.38" r="2.1" fill="#e3101c"/>
<circle cx="414.44" cy="357.12" r="2.1" fill="#e3101c"/>
<circle cx="420.51" cy="356.87" r="2.1" fill="#e3101c"/>
<circle cx="426.59" cy="356.62" r="2.1" fill="#e3101c"/>
<circle cx="432.67" cy="356.03" r="2.1" fill="#e3101c"/>
<circle cx="438.75" cy="356" r="2.1" fill="#e3101c"/>
<circle cx="444.83" cy="356" r="2.1" fill="#e3101c"/>
<circle cx="450.91" cy="356" r="2.1" fill="#e3101c"/>
<circle cx="456.99" cy="356" r="2.1" fill="#e3101c"/>
<circle cx="463.06" cy="356.4" r="2.1" fill="#e3101c"/>
<circle cx="469.14" cy="356.81" r="2.1" fill="#e3101c"/>
<circle cx="475.22" cy="357.21" r="2.1" fill="#e3101c"/>
<circle cx="481.3" cy="357.62" r="2.1" fill="#e3101c"/>
<circle cx="487.38" cy="357.97" r="2.1" fill="#e3101c"/>
<circle cx="493.46" cy="358.33" r="2.1" fill="#e3101c"/>
<circle cx="499.54" cy="358.68" r="2.1" fill="#e3101c"/>
<circle cx="505.61" cy="359.04" r="2.1" fill="#e3101c"/>
<circle cx="511.69" cy="359.42" r="2.1" fill="#e3101c"/>
<circle cx="517.77" cy="359.8" r="2.1" fill="#e3101c"/>
<circle cx="523.85" cy="360.23" r="2.1" fill="#e3101c"/>
<circle cx="529.93" cy="360.71" r="2.1" fill="#e3101c"/>
<circle cx="536.01" cy="361.2" r="2.1" fill="#e3101c"/>
<circle cx="542.09" cy="361.6" r="2.1" fill="#e3101c"/>
<circle cx="548.16" cy="361.6" r="2.1" fill="#e3101c"/>
<circle cx="554.24" cy="361.6" r="2.1" fill="#e3101c"/>
<circle cx="560.32" cy="361.6" r="2.1" fill="#e3101c"/>
<circle cx="566.4" cy="361.6" r="2.1" fill="#e3101c"/>
<rect x="351.85" y="378.6" width="3.6" height="3.6" fill="#474747"/>
<rect x="357.6" y="378.6" width="3.6" height="3.6" fill="#474747"/>
<rect x="363.35" y="378.6" width="3.6" height="3.6" fill="#474747"/>
<rect x="369.1" y="378.6" width="3.6" height="3.6" fill="#474747"/>
<rect x="374.85" y="378.6" width="3.6" height="3.6" fill="#474747"/>
<rect x="380.6" y="380.03" width="3.6" height="3.6" fill="#474747"/>
<rect x="386.35" y="380.61" width="3.6" height="3.6" fill="#474747"/>
<rect x="392.1" y="381.08" width="3.6" height="3.6" fill="#474747"/>
<rect x="397.85" y="381.54" width="3.6" height="3.6" fill="#474747"/>
<rect x="403.6" y="383.03" width="3.6" height="3.6" fill="#474747"/>
<rect x="409.35" y="383.29" width="3.6" height="3.6" fill="#474747"/>
<rect x="415.1" y="383.39" width="3.6" height="3.6" fill="#474747"/>
<rect x="420.85" y="383.49" width="3.6" height="3.6" fill="#474747"/>
<rect x="426.6" y="383.59" width="3.6" height="3.6" fill="#474747"/>
<rect x="432.35" y="384.37" width="3.6" height="3.6" fill="#474747"/>
<rect x="438.1" y="385.23" width="3.6" height="3.6" fill="#474747"/>
<rect x="443.85" y="386.09" width="3.6" height="3.6" fill="#474747"/>
<rect x="449.6" y="384.41" width="3.6" height="3.6" fill="#474747"/>
<rect x="455.35" y="386.04" width="3.6" height="3.6" fill="#474747"/>
<rect x="461.1" y="385.29" width="3.6" height="3.6" fill="#474747"/>
<rect x="466.85" y="385.39" width="3.6" height="3.6" fill="#474747"/>
<rect x="472.6" y="385.6" width="3.6" height="3.6" fill="#474747"/>
<rect x="478.35" y="385.81" width="3.6" height="3.6" fill="#474747"/>
<rect x="484.1" y="386.02" width="3.6" height="3.6" fill="#474747"/>
<rect x="489.85" y="386.25" width="3.6" height="3.6" fill="#474747"/>
<rect x="495.6" y="386.73" width="3.6" height="3.6" fill="#474747"/>
<rect x="501.35" y="387.21" width="3.6" height="3.6" fill="#474747"/>
<rect x="507.1" y="387.69" width="3.6" height="3.6" fill="#474747"/>
<rect x="512.85" y="388.17" width="3.6" height="3.6" fill="#474747"/>
<rect x="518.6" y="387.88" width="3.6" height="3.6" fill="#474747"/>
<rect x="524.35" y="387.55" width="3.6" height="3.6" fill="#474747"/>
<rect x="530.1" y="387.21" width="3.6" height="3.6" fill="#474747"/>
<rect x="535.85" y="386.88" width="3.6" height="3.6" fill="#474747"/>
<rect x="541.6" y="385.92" width="3.6" height="3.6" fill="#474747"/>
<rect x="547.35" y="384.79" width="3.6" height="3.6" fill="#474747"/>
<rect x="553.1" y="384.46" width="3.6" height="3.6" fill="#474747"/>
<rect x="558.85" y="384.13" width="3.6" height="3.6" fill="#474747"/>
<rect x="564.6" y="383.8" width="3.6" height="3.6" fill="#474747"/>
<path d="M353.65 392.82l2.5 -4.6h-5z" fill="#16a06c"/>
<path d="M359.11 394.24l2.5 -4.6h-5z" fill="#16a06c"/>
<path d="M364.56 395.65l2.5 -4.6h-5z" fill="#16a06c"/>
<path d="M370.02 396.37l2.5 -4.6h-5z" fill="#16a06c"/>
<path d="M375.47 397.04l2.5 -4.6h-5z" fill="#16a06c"/>
<path d="M380.93 397.7l2.5 -4.6h-5z" fill="#16a06c"/>
<path d="M386.38 397.76l2.5 -4.6h-5z" fill="#16a06c"/>
<path d="M391.84 397.76l2.5 -4.6h-5z" fill="#16a06c"/>
<path d="M397.29 397.76l2.5 -4.6h-5z" fill="#16a06c"/>
<path d="M402.75 399.28l2.5 -4.6h-5z" fill="#16a06c"/>
<path d="M408.2 399.45l2.5 -4.6h-5z" fill="#16a06c"/>
<path d="M413.66 399.55l2.5 -4.6h-5z" fill="#16a06c"/>
<path d="M419.11 399.65l2.5 -4.6h-5z" fill="#16a06c"/>
<path d="M424.57 399.75l2.5 -4.6h-5z" fill="#16a06c"/>
<path d="M430.02 399.84l2.5 -4.6h-5z" fill="#16a06c"/>
<path d="M435.48 399.93l2.5 -4.6h-5z" fill="#16a06c"/>
<path d="M440.93 400.01l2.5 -4.6h-5z" fill="#16a06c"/>
<path d="M446.39 400.1l2.5 -4.6h-5z" fill="#16a06c"/>
<path d="M451.84 400.18l2.5 -4.6h-5z" fill="#16a06c"/>
<path d="M457.3 400.27l2.5 -4.6h-5z" fill="#16a06c"/>
<path d="M462.75 400.36l2.5 -4.6h-5z" fill="#16a06c"/>
<path d="M468.21 400.83l2.5 -4.6h-5z" fill="#16a06c"/>
<path d="M473.66 401.33l2.5 -4.6h-5z" fill="#16a06c"/>
<path d="M479.12 401.83l2.5 -4.6h-5z" fill="#16a06c"/>
<path d="M484.57 402.32l2.5 -4.6h-5z" fill="#16a06c"/>
<path d="M490.03 403.16l2.5 -4.6h-5z" fill="#16a06c"/>
<path d="M495.48 404.04l2.5 -4.6h-5z" fill="#16a06c"/>
<path d="M500.94 404.91l2.5 -4.6h-5z" fill="#16a06c"/>
<path d="M506.39 405.78l2.5 -4.6h-5z" fill="#16a06c"/>
<path d="M511.85 406.66l2.5 -4.6h-5z" fill="#16a06c"/>
<path d="M517.3 407.39l2.5 -4.6h-5z" fill="#16a06c"/>
<path d="M522.76 407.94l2.5 -4.6h-5z" fill="#16a06c"/>
<path d="M528.21 408.48l2.5 -4.6h-5z" fill="#16a06c"/>
<path d="M533.67 409.03l2.5 -4.6h-5z" fill="#16a06c"/>
<path d="M539.12 409.57l2.5 -4.6h-5z" fill="#16a06c"/>
<path d="M544.58 410.12l2.5 -4.6h-5z" fill="#16a06c"/>
<path d="M550.03 410.3l2.5 -4.6h-5z" fill="#16a06c"/>
<path d="M555.49 410.45l2.5 -4.6h-5z" fill="#16a06c"/>
<path d="M560.94 410.61l2.5 -4.6h-5z" fill="#16a06c"/>
<path d="M566.4 410.76l2.5 -4.6h-5z" fill="#16a06c"/>
<rect x="332.7" y="256.3" width="255.1" height="207" fill="none" stroke="#7d7d7d" stroke-width="1.3"/>
<path d="M332.7 256.3V463.3" stroke="#6a6a6a" stroke-width="1.3"/>
<path d="M353.96 463.3V466.7M396.47 463.3V466.7M438.99 463.3V466.7M481.51 463.3V466.7M524.02 463.3V466.7M566.54 463.3V466.7M332.7 463.3V465.1M375.22 463.3V465.1M417.73 463.3V465.1M460.25 463.3V465.1M502.77 463.3V465.1M545.28 463.3V465.1M587.8 463.3V465.1M332.7 463.3H329.3M332.7 438.95H329.3M332.7 414.59H329.3M332.7 390.24H329.3M332.7 365.89H329.3M332.7 341.54H329.3M332.7 317.18H329.3M332.7 292.83H329.3M332.7 268.48H329.3M332.7 451.12H330.9M332.7 426.77H330.9M332.7 402.42H330.9M332.7 378.06H330.9M332.7 353.71H330.9M332.7 329.36H330.9M332.7 305.01H330.9M332.7 280.65H330.9M332.7 256.3H330.9" stroke="#7d7d7d" stroke-width="1.0" fill="none"/>
<text x="327.5" y="465.9" font-size="8.7" text-anchor="end" font-weight="bold" fill="#111" stroke="#111" stroke-width="0.3">20</text>
<text x="327.5" y="441.55" font-size="8.7" text-anchor="end" font-weight="bold" fill="#111" stroke="#111" stroke-width="0.3">30</text>
<text x="327.5" y="417.19" font-size="8.7" text-anchor="end" font-weight="bold" fill="#111" stroke="#111" stroke-width="0.3">40</text>
<text x="327.5" y="392.84" font-size="8.7" text-anchor="end" font-weight="bold" fill="#111" stroke="#111" stroke-width="0.3">50</text>
<text x="327.5" y="368.49" font-size="8.7" text-anchor="end" font-weight="bold" fill="#111" stroke="#111" stroke-width="0.3">60</text>
<text x="327.5" y="344.14" font-size="8.7" text-anchor="end" font-weight="bold" fill="#111" stroke="#111" stroke-width="0.3">70</text>
<text x="327.5" y="319.78" font-size="8.7" text-anchor="end" font-weight="bold" fill="#111" stroke="#111" stroke-width="0.3">80</text>
<text x="327.5" y="295.43" font-size="8.7" text-anchor="end" font-weight="bold" fill="#111" stroke="#111" stroke-width="0.3">90</text>
<text x="327.5" y="271.08" font-size="8.7" text-anchor="end" font-weight="bold" fill="#111" stroke="#111" stroke-width="0.3">100</text>
<text x="353.96" y="476.1" font-size="8.7" text-anchor="middle" font-weight="bold" fill="#111" stroke="#111" stroke-width="0.3">0</text>
<text x="396.47" y="476.1" font-size="8.7" text-anchor="middle" font-weight="bold" fill="#111" stroke="#111" stroke-width="0.3">1000</text>
<text x="438.99" y="476.1" font-size="8.7" text-anchor="middle" font-weight="bold" fill="#111" stroke="#111" stroke-width="0.3">2000</text>
<text x="481.51" y="476.1" font-size="8.7" text-anchor="middle" font-weight="bold" fill="#111" stroke="#111" stroke-width="0.3">3000</text>
<text x="524.02" y="476.1" font-size="8.7" text-anchor="middle" font-weight="bold" fill="#111" stroke="#111" stroke-width="0.3">4000</text>
<text x="566.54" y="476.1" font-size="8.7" text-anchor="middle" font-weight="bold" fill="#111" stroke="#111" stroke-width="0.3">5000</text>
<text x="459.8" y="493.6" font-size="10.5" text-anchor="middle" font-weight="bold" fill="#111" stroke="#111" stroke-width="0.3" textLength="33" lengthAdjust="spacingAndGlyphs">Cycles</text>
<text x="0" y="0" font-size="10.6" font-weight="bold" fill="#111" stroke="#111" stroke-width="0.3" text-anchor="middle" textLength="134.4" lengthAdjust="spacingAndGlyphs" transform="translate(309.2 354.2) rotate(-90)">Specific capacitance (F g<tspan font-size="6.5" dy="-4">-1</tspan><tspan dy="4">)</tspan></text>
<text x="535.4" y="282.3" font-size="8.7" text-anchor="start" font-weight="bold" fill="#2f6fd4" stroke="#2f6fd4" stroke-width="0.3" textLength="26.7" lengthAdjust="spacingAndGlyphs">97.6 %</text>
<text x="535.4" y="315.8" font-size="8.7" text-anchor="start" font-weight="bold" fill="#c9a24a" stroke="#c9a24a" stroke-width="0.3" textLength="31.2" lengthAdjust="spacingAndGlyphs">103.7 %</text>
<text x="535.8" y="352.1" font-size="8.7" text-anchor="start" font-weight="bold" fill="#b07ee2" stroke="#b07ee2" stroke-width="0.3" textLength="30.8" lengthAdjust="spacingAndGlyphs">105.2 %</text>
<text x="535.8" y="373.2" font-size="8.7" text-anchor="start" font-weight="bold" fill="#e5141e" stroke="#e5141e" stroke-width="0.3" textLength="26.4" lengthAdjust="spacingAndGlyphs">98.2 %</text>
<text x="535.8" y="399.4" font-size="8.7" text-anchor="start" font-weight="bold" fill="#454545" stroke="#454545" stroke-width="0.3" textLength="26.4" lengthAdjust="spacingAndGlyphs">96.2 %</text>
<text x="535.6" y="421.3" font-size="8.7" text-anchor="start" font-weight="bold" fill="#1ba36d" stroke="#1ba36d" stroke-width="0.3" textLength="31.4" lengthAdjust="spacingAndGlyphs">85.55 %</text>
<rect x="346.5" y="438.5" width="3.6" height="3.6" fill="#474747"/>
<path d="M348.3 453.32l2.3 -4.2h-4.6z" fill="#16a06c"/>
<circle cx="426.1" cy="440.3" r="2.1" fill="#e3101c"/>
<path d="M426.1 448.3l2.5 2.5l-2.5 2.5l-2.5 -2.5z" fill="#ad72de"/>
<path d="M505.6 437.78l2.3 4.2h-4.6z" fill="#1f62c6"/>
<path d="M503.08 450.8l4.2 -2.3v4.6z" fill="#d9a024"/>
<text x="360.5" y="443.4" font-size="8.6" text-anchor="start" font-weight="bold" fill="#111" stroke="#111" stroke-width="0.3" textLength="55.3" lengthAdjust="spacingAndGlyphs">AK<tspan dy="0.86" stroke="#111" stroke-width="0.47">_</tspan><tspan dy="-0.86">80</tspan><tspan dy="0.86" stroke="#111" stroke-width="0.47">_</tspan><tspan dy="-0.86">10</tspan><tspan dy="0.86" stroke="#111" stroke-width="0.47">_</tspan><tspan dy="-0.86">10</tspan></text>
<text x="360.5" y="453.9" font-size="8.6" text-anchor="start" font-weight="bold" fill="#111" stroke="#111" stroke-width="0.3" textLength="50.7" lengthAdjust="spacingAndGlyphs">RH<tspan dy="0.86" stroke="#111" stroke-width="0.47">_</tspan><tspan dy="-0.86">85</tspan><tspan dy="0.86" stroke="#111" stroke-width="0.47">_</tspan><tspan dy="-0.86">10</tspan><tspan dy="0.86" stroke="#111" stroke-width="0.47">_</tspan><tspan dy="-0.86">5</tspan></text>
<text x="438.2" y="443.4" font-size="8.6" text-anchor="start" font-weight="bold" fill="#111" stroke="#111" stroke-width="0.3" textLength="56" lengthAdjust="spacingAndGlyphs">RH<tspan dy="0.86" stroke="#111" stroke-width="0.47">_</tspan><tspan dy="-0.86">80</tspan><tspan dy="0.86" stroke="#111" stroke-width="0.47">_</tspan><tspan dy="-0.86">10</tspan><tspan dy="0.86" stroke="#111" stroke-width="0.47">_</tspan><tspan dy="-0.86">10</tspan></text>
<text x="438.2" y="453.9" font-size="8.6" text-anchor="start" font-weight="bold" fill="#111" stroke="#111" stroke-width="0.3" textLength="57" lengthAdjust="spacingAndGlyphs">WS<tspan dy="0.86" stroke="#111" stroke-width="0.47">_</tspan><tspan dy="-0.86">80</tspan><tspan dy="0.86" stroke="#111" stroke-width="0.47">_</tspan><tspan dy="-0.86">10</tspan><tspan dy="0.86" stroke="#111" stroke-width="0.47">_</tspan><tspan dy="-0.86">10</tspan></text>
<text x="517.5" y="443.4" font-size="8.6" text-anchor="start" font-weight="bold" fill="#111" stroke="#111" stroke-width="0.3" textLength="50.7" lengthAdjust="spacingAndGlyphs">AK<tspan dy="0.86" stroke="#111" stroke-width="0.47">_</tspan><tspan dy="-0.86">85</tspan><tspan dy="0.86" stroke="#111" stroke-width="0.47">_</tspan><tspan dy="-0.86">10</tspan><tspan dy="0.86" stroke="#111" stroke-width="0.47">_</tspan><tspan dy="-0.86">5</tspan></text>
<text x="517.3" y="453.9" font-size="8.6" text-anchor="start" font-weight="bold" fill="#111" stroke="#111" stroke-width="0.3" textLength="52.8" lengthAdjust="spacingAndGlyphs">WS<tspan dy="0.86" stroke="#111" stroke-width="0.47">_</tspan><tspan dy="-0.86">85</tspan><tspan dy="0.86" stroke="#111" stroke-width="0.47">_</tspan><tspan dy="-0.86">10</tspan><tspan dy="0.86" stroke="#111" stroke-width="0.47">_</tspan><tspan dy="-0.86">5</tspan></text>
<circle cx="573.2" cy="268.5" r="7.2" fill="#fff" stroke="#000" stroke-width="1.6"/>
<text x="572.9" y="272.7" font-size="12.6" text-anchor="middle" fill="#000" stroke="#000" stroke-width="0.15">d</text>
</svg></body></html>
